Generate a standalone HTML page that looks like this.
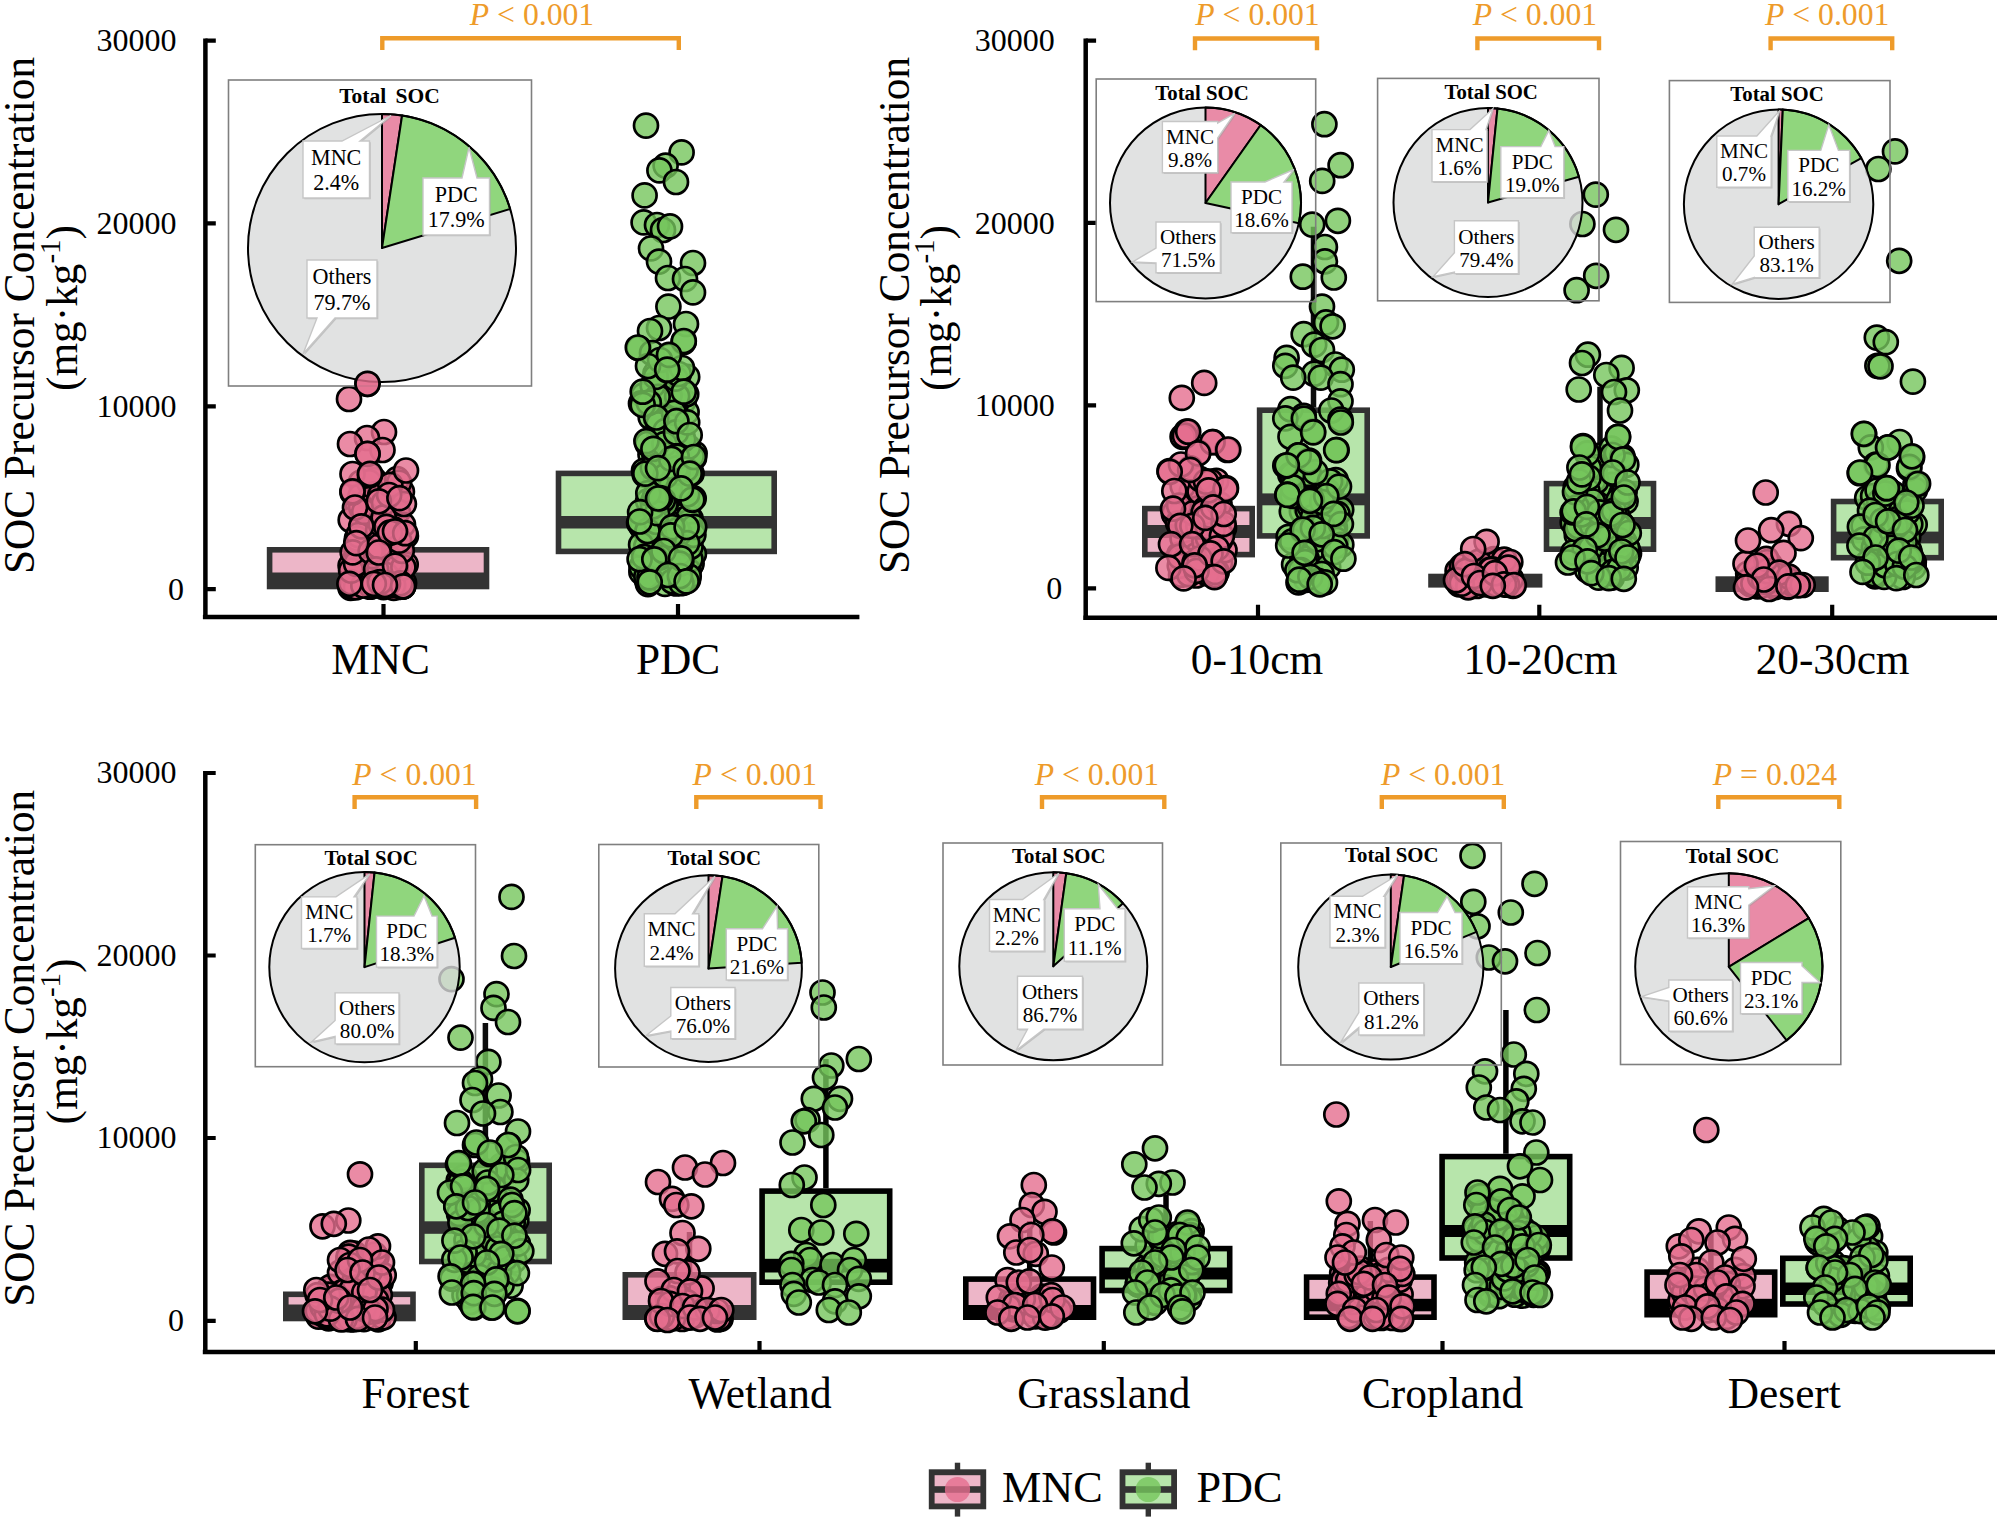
<!DOCTYPE html>
<html lang="en"><head><meta charset="utf-8"><title>SOC precursor concentration</title>
<style>html,body{margin:0;padding:0;background:#fff}svg{display:block}</style></head>
<body>
<svg width="2000" height="1520" viewBox="0 0 2000 1520" font-family="Liberation Serif, Times New Roman, serif" fill="#000">
<rect width="2000" height="1520" fill="#fff"/>
<path d="M205.4 38.6V619.2M202.9 616.9H859.4" stroke="#000" stroke-width="4.5" fill="none"/>
<path d="M205.4 40.7h10.4M205.4 223.4h10.4M205.4 406.3h10.4M205.4 589.2h10.4M383.5 616.9v-13M678 616.9v-13" stroke="#000" stroke-width="4.2" fill="none"/>
<text x="176.6" y="51.3" font-size="32" text-anchor="end">30000</text>
<text x="176.6" y="234" font-size="32" text-anchor="end">20000</text>
<text x="176.6" y="416.9" font-size="32" text-anchor="end">10000</text>
<text x="184.1" y="599.8" font-size="32" text-anchor="end">0</text>
<path d="M1085.7 38.6V620M1083.2 617.7H1997" stroke="#000" stroke-width="4.5" fill="none"/>
<path d="M1085.7 40.7h10.4M1085.7 222.9h10.4M1085.7 405.3h10.4M1085.7 588.4h10.4M1258 617.7v-13M1539.3 617.7v-13M1832.2 617.7v-13" stroke="#000" stroke-width="4.2" fill="none"/>
<text x="1054.7" y="51.3" font-size="32" text-anchor="end">30000</text>
<text x="1054.7" y="233.5" font-size="32" text-anchor="end">20000</text>
<text x="1054.7" y="415.9" font-size="32" text-anchor="end">10000</text>
<text x="1062.2" y="599" font-size="32" text-anchor="end">0</text>
<path d="M205.3 770.9V1354.2M202.8 1351.9H1995" stroke="#000" stroke-width="4.5" fill="none"/>
<path d="M205.3 773h10.4M205.3 955.5h10.4M205.3 1138h10.4M205.3 1320.8h10.4M415.8 1351.9v-10.8M759.5 1351.9v-10.8M1103.8 1351.9v-10.8M1442.5 1351.9v-10.8M1784.5 1351.9v-10.8" stroke="#000" stroke-width="4.2" fill="none"/>
<text x="176.6" y="783" font-size="32" text-anchor="end">30000</text>
<text x="176.6" y="965.5" font-size="32" text-anchor="end">20000</text>
<text x="176.6" y="1148" font-size="32" text-anchor="end">10000</text>
<text x="184.1" y="1330.8" font-size="32" text-anchor="end">0</text>
<text transform="translate(34.3 315.5) rotate(-90)" font-size="43.3" text-anchor="middle">SOC Precursor Concentration</text>
<text transform="translate(77.2 308) rotate(-90)" font-size="43.3" text-anchor="middle">(mg·kg<tspan font-size="29" dy="-17">-1</tspan><tspan dy="17">)</tspan></text>
<text transform="translate(908.5 315.5) rotate(-90)" font-size="43.3" text-anchor="middle">SOC Precursor Concentration</text>
<text transform="translate(951 308) rotate(-90)" font-size="43.3" text-anchor="middle">(mg·kg<tspan font-size="29" dy="-17">-1</tspan><tspan dy="17">)</tspan></text>
<text transform="translate(33.5 1048.3) rotate(-90)" font-size="43.3" text-anchor="middle">SOC Precursor Concentration</text>
<text transform="translate(76.8 1041.5) rotate(-90)" font-size="43.3" text-anchor="middle">(mg·kg<tspan font-size="29" dy="-17">-1</tspan><tspan dy="17">)</tspan></text>
<text x="380.5" y="673.5" font-size="43.3" text-anchor="middle">MNC</text>
<text x="678" y="673.5" font-size="43.3" text-anchor="middle">PDC</text>
<text x="1257" y="673.5" font-size="43.3" text-anchor="middle">0-10cm</text>
<text x="1540.5" y="673.5" font-size="43.3" text-anchor="middle">10-20cm</text>
<text x="1832.6" y="673.5" font-size="43.3" text-anchor="middle">20-30cm</text>
<text x="415.5" y="1407.5" font-size="43.3" text-anchor="middle">Forest</text>
<text x="760" y="1407.5" font-size="43.3" text-anchor="middle">Wetland</text>
<text x="1103.8" y="1407.5" font-size="43.3" text-anchor="middle">Grassland</text>
<text x="1442.5" y="1407.5" font-size="43.3" text-anchor="middle">Cropland</text>
<text x="1784.3" y="1407.5" font-size="43.3" text-anchor="middle">Desert</text>
<rect x="266.8" y="547" width="222.5" height="42.3" fill="#333"/>
<rect x="272.4" y="552.6" width="211.3" height="19.9" fill="#edb6c8"/>
<rect x="555.7" y="470.6" width="221.3" height="83.6" fill="#333"/>
<rect x="561.3" y="476.2" width="210.1" height="39.8" fill="#b7e5ab"/>
<rect x="561.3" y="528.5" width="210.1" height="20.1" fill="#b7e5ab"/>
<rect x="1142" y="505.8" width="113" height="51.6" fill="#333"/>
<rect x="1147.6" y="511.4" width="101.8" height="13.6" fill="#edb6c8"/>
<rect x="1147.6" y="538" width="101.8" height="13.8" fill="#edb6c8"/>
<path d="M1313.5 226.8V407.4" stroke="#0d0d0d" stroke-width="5.5"/>
<rect x="1256.8" y="407.4" width="113.2" height="131.3" fill="#333"/>
<rect x="1262.4" y="413" width="102" height="80.4" fill="#b7e5ab"/>
<rect x="1262.4" y="505.3" width="102" height="27.8" fill="#b7e5ab"/>
<rect x="1428.2" y="573.7" width="114.2" height="13.9" fill="#333"/>
<path d="M1600 386.8V480.8" stroke="#0d0d0d" stroke-width="5.5"/>
<rect x="1543.7" y="480.8" width="112.6" height="71.2" fill="#333"/>
<rect x="1549.3" y="486.4" width="101.4" height="30.6" fill="#b7e5ab"/>
<rect x="1549.3" y="529" width="101.4" height="17.4" fill="#b7e5ab"/>
<rect x="1715.5" y="576.3" width="113.2" height="15.7" fill="#333"/>
<rect x="1830.8" y="498.7" width="113.2" height="61.8" fill="#333"/>
<rect x="1836.4" y="504.3" width="102" height="27.3" fill="#b7e5ab"/>
<rect x="1836.4" y="543.4" width="102" height="11.5" fill="#b7e5ab"/>
<rect x="283" y="1291.5" width="132.8" height="29.8" fill="#333"/>
<rect x="288.6" y="1297.1" width="121.6" height="7.4" fill="#edb6c8"/>
<path d="M485.4 1022.9V1162.5" stroke="#0d0d0d" stroke-width="5.5"/>
<rect x="419" y="1162.5" width="133" height="101.8" fill="#333"/>
<rect x="424.6" y="1168.1" width="121.8" height="53.2" fill="#b7e5ab"/>
<rect x="424.6" y="1233.8" width="121.8" height="24.9" fill="#b7e5ab"/>
<path d="M689.5 1232V1272" stroke="#0d0d0d" stroke-width="5.5"/>
<rect x="622.5" y="1272" width="134" height="48" fill="#333"/>
<rect x="628.1" y="1277.6" width="122.8" height="27.4" fill="#edb6c8"/>
<path d="M825.9 1059V1188.3" stroke="#000" stroke-width="5.5"/>
<rect x="759.3" y="1188.3" width="133.2" height="96.7" fill="#000"/>
<rect x="764.9" y="1193.9" width="122" height="64.9" fill="#b7e5ab"/>
<rect x="764.9" y="1272.5" width="122" height="6.9" fill="#b7e5ab"/>
<path d="M1029.7 1221V1276.3" stroke="#000" stroke-width="5.5"/>
<rect x="963" y="1276.3" width="133.3" height="43.7" fill="#000"/>
<rect x="968.6" y="1281.9" width="122.1" height="23.1" fill="#edb6c8"/>
<path d="M1166 1195V1245.8" stroke="#000" stroke-width="5.5"/>
<rect x="1099.3" y="1245.8" width="133.2" height="47.5" fill="#000"/>
<rect x="1104.9" y="1251.4" width="122" height="16.1" fill="#b7e5ab"/>
<rect x="1104.9" y="1279.5" width="122" height="8.2" fill="#b7e5ab"/>
<path d="M1370.3 1221V1274.3" stroke="#000" stroke-width="5.5"/>
<rect x="1303.8" y="1274.3" width="133" height="45.7" fill="#000"/>
<rect x="1309.4" y="1279.9" width="121.8" height="18.9" fill="#edb6c8"/>
<rect x="1309.4" y="1311.3" width="121.8" height="3.1" fill="#edb6c8"/>
<path d="M1505.9 1010V1153.8" stroke="#000" stroke-width="5.5"/>
<rect x="1439.3" y="1153.8" width="133.2" height="107" fill="#000"/>
<rect x="1444.9" y="1159.4" width="122" height="65.6" fill="#b7e5ab"/>
<rect x="1444.9" y="1237" width="122" height="18.2" fill="#b7e5ab"/>
<path d="M1710.9 1232V1269.3" stroke="#000" stroke-width="5.5"/>
<rect x="1644.3" y="1269.3" width="133.2" height="48.2" fill="#000"/>
<rect x="1649.9" y="1274.9" width="122" height="23.9" fill="#edb6c8"/>
<rect x="1780" y="1255.5" width="133" height="51.3" fill="#000"/>
<rect x="1785.6" y="1261.1" width="121.8" height="21.4" fill="#b7e5ab"/>
<rect x="1785.6" y="1295" width="121.8" height="6.2" fill="#b7e5ab"/>
<g fill="#e56e8e" fill-opacity=".8" stroke="#000" stroke-width="2.7">
<circle cx="364.4" cy="539.1" r="12"/><circle cx="352.3" cy="586.1" r="12"/><circle cx="369.6" cy="528.4" r="12"/><circle cx="365.5" cy="566.5" r="12"/><circle cx="381.8" cy="583.8" r="12"/><circle cx="396.8" cy="580.5" r="12"/><circle cx="402.2" cy="582.7" r="12"/><circle cx="378.9" cy="576.9" r="12"/><circle cx="371.8" cy="564.2" r="12"/><circle cx="386" cy="582.8" r="12"/><circle cx="355" cy="583.2" r="12"/><circle cx="398" cy="563.9" r="12"/><circle cx="385.2" cy="560.5" r="12"/><circle cx="403.2" cy="586.2" r="12"/><circle cx="399.2" cy="567.2" r="12"/><circle cx="377.3" cy="582.3" r="12"/><circle cx="388.4" cy="568.5" r="12"/><circle cx="393" cy="509.9" r="12"/><circle cx="372.3" cy="584" r="12"/><circle cx="400.8" cy="548.8" r="12"/><circle cx="369.6" cy="531.7" r="12"/><circle cx="361.6" cy="585.1" r="12"/><circle cx="367" cy="561.9" r="12"/><circle cx="382.4" cy="544.9" r="12"/><circle cx="401.5" cy="582.3" r="12"/><circle cx="360.8" cy="482.5" r="12"/><circle cx="374.2" cy="481.2" r="12"/><circle cx="395.5" cy="509.7" r="12"/><circle cx="354.7" cy="586.3" r="12"/><circle cx="398.3" cy="490.2" r="12"/><circle cx="361.6" cy="583.9" r="12"/><circle cx="393.7" cy="584.1" r="12"/><circle cx="352.7" cy="562.1" r="12"/><circle cx="401.9" cy="491.8" r="12"/><circle cx="363.5" cy="554.8" r="12"/><circle cx="350.6" cy="587.9" r="12"/><circle cx="358" cy="505.7" r="12"/><circle cx="372.2" cy="512.5" r="12"/><circle cx="369.9" cy="586.7" r="12"/><circle cx="385.7" cy="575.4" r="12"/><circle cx="361.1" cy="527.3" r="12"/><circle cx="367.7" cy="513.1" r="12"/><circle cx="362.7" cy="573.9" r="12"/><circle cx="405.9" cy="535.9" r="12"/><circle cx="383.3" cy="578.2" r="12"/><circle cx="357.1" cy="538.9" r="12"/><circle cx="399.1" cy="577" r="12"/><circle cx="397.9" cy="511.6" r="12"/><circle cx="364.8" cy="524" r="12"/><circle cx="401.8" cy="582.1" r="12"/><circle cx="358" cy="583.2" r="12"/><circle cx="382.3" cy="562.3" r="12"/><circle cx="374.1" cy="479.8" r="12"/><circle cx="398" cy="587" r="12"/><circle cx="360.5" cy="496" r="12"/><circle cx="400.8" cy="563.4" r="12"/><circle cx="362.1" cy="570.7" r="12"/><circle cx="385.6" cy="562.1" r="12"/><circle cx="393.7" cy="542.9" r="12"/><circle cx="403.3" cy="585.7" r="12"/><circle cx="404.1" cy="583" r="12"/><circle cx="367.1" cy="582.7" r="12"/><circle cx="387.1" cy="537.3" r="12"/><circle cx="392.3" cy="583" r="12"/><circle cx="365.4" cy="573.2" r="12"/><circle cx="356.3" cy="574" r="12"/><circle cx="400.3" cy="583.8" r="12"/><circle cx="382.3" cy="546.4" r="12"/><circle cx="357.2" cy="554.1" r="12"/><circle cx="350.7" cy="520" r="12"/><circle cx="385.3" cy="542.8" r="12"/><circle cx="352.4" cy="587.1" r="12"/><circle cx="350.6" cy="565.6" r="12"/><circle cx="356.9" cy="542.4" r="12"/><circle cx="391.5" cy="570.7" r="12"/><circle cx="364.3" cy="534.8" r="12"/><circle cx="405.7" cy="564.4" r="12"/><circle cx="355.9" cy="587.3" r="12"/><circle cx="383.3" cy="563.3" r="12"/><circle cx="371.6" cy="586.4" r="12"/><circle cx="369" cy="482.1" r="12"/><circle cx="392.1" cy="583.7" r="12"/><circle cx="395.6" cy="568.5" r="12"/><circle cx="360.9" cy="542.6" r="12"/><circle cx="383.5" cy="587.1" r="12"/><circle cx="397.1" cy="479.1" r="12"/><circle cx="391" cy="531.5" r="12"/><circle cx="361.9" cy="508.7" r="12"/><circle cx="374.7" cy="494.1" r="12"/><circle cx="393.7" cy="587.8" r="12"/><circle cx="381.2" cy="585" r="12"/><circle cx="350.8" cy="582.2" r="12"/><circle cx="402.1" cy="586.7" r="12"/><circle cx="363.3" cy="585.5" r="12"/><circle cx="377.2" cy="539.6" r="12"/><circle cx="403" cy="524.8" r="12"/><circle cx="391.9" cy="560.1" r="12"/><circle cx="393.1" cy="584.7" r="12"/><circle cx="372.5" cy="500.3" r="12"/><circle cx="372.8" cy="556.2" r="12"/><circle cx="351.1" cy="570.6" r="12"/><circle cx="399.1" cy="482.6" r="12"/><circle cx="357" cy="538.5" r="12"/><circle cx="386.1" cy="575" r="12"/><circle cx="370" cy="498.8" r="12"/><circle cx="390.9" cy="536.5" r="12"/><circle cx="403.4" cy="567.3" r="12"/><circle cx="401.8" cy="550.8" r="12"/><circle cx="400.2" cy="583.3" r="12"/><circle cx="356.1" cy="563.7" r="12"/><circle cx="380.1" cy="495.6" r="12"/><circle cx="361" cy="506.8" r="12"/><circle cx="358.4" cy="535" r="12"/><circle cx="352.7" cy="552.4" r="12"/><circle cx="364.2" cy="511.9" r="12"/><circle cx="383.9" cy="503" r="12"/><circle cx="393.4" cy="529" r="12"/><circle cx="378.1" cy="530.8" r="12"/><circle cx="399.1" cy="540.6" r="12"/><circle cx="370.7" cy="551.3" r="12"/><circle cx="378.9" cy="546.5" r="12"/><circle cx="380.8" cy="524.1" r="12"/><circle cx="383.7" cy="517.4" r="12"/><circle cx="386.4" cy="526.9" r="12"/><circle cx="389.9" cy="532.7" r="12"/><circle cx="403.9" cy="504" r="12"/><circle cx="390.3" cy="484.8" r="12"/><circle cx="388" cy="583.6" r="12"/><circle cx="405.2" cy="533.2" r="12"/><circle cx="389.1" cy="495" r="12"/><circle cx="376.1" cy="569.4" r="12"/><circle cx="379.9" cy="582.2" r="12"/><circle cx="367.5" cy="383.8" r="12"/><circle cx="349" cy="399" r="12"/><circle cx="384" cy="432" r="12"/><circle cx="367" cy="438" r="12"/><circle cx="350" cy="444" r="12"/><circle cx="382.5" cy="450" r="12"/><circle cx="367.5" cy="454" r="12"/><circle cx="406" cy="470.5" r="12"/><circle cx="352.5" cy="474" r="12"/><circle cx="370" cy="475" r="12"/><circle cx="352.5" cy="492.5" r="12"/><circle cx="367.5" cy="453.8" r="12"/><circle cx="370" cy="473.8" r="12"/><circle cx="352.5" cy="491.3" r="12"/><circle cx="378.8" cy="501.3" r="12"/><circle cx="399.4" cy="498.1" r="12"/><circle cx="355" cy="507.5" r="12"/><circle cx="395" cy="531.3" r="12"/><circle cx="361.3" cy="526.3" r="12"/><circle cx="356.3" cy="543.1" r="12"/><circle cx="378.8" cy="552.5" r="12"/><circle cx="395" cy="565.6" r="12"/><circle cx="349.4" cy="583.8" r="12"/><circle cx="403.1" cy="586.3" r="12"/><circle cx="373.8" cy="583.8" r="12"/><circle cx="385" cy="585" r="12"/>
</g>
<g fill="#76c65c" fill-opacity=".8" stroke="#000" stroke-width="2.7">
<circle cx="657.6" cy="571.5" r="12"/><circle cx="665.9" cy="380.4" r="12"/><circle cx="655.4" cy="373.6" r="12"/><circle cx="690.3" cy="565.9" r="12"/><circle cx="667.9" cy="530.4" r="12"/><circle cx="651.7" cy="548.1" r="12"/><circle cx="682.5" cy="530.5" r="12"/><circle cx="663.6" cy="529" r="12"/><circle cx="690.6" cy="518.8" r="12"/><circle cx="664.1" cy="395.4" r="12"/><circle cx="650.5" cy="454.6" r="12"/><circle cx="641.3" cy="526.1" r="12"/><circle cx="665.7" cy="480.5" r="12"/><circle cx="671.9" cy="560.1" r="12"/><circle cx="668.7" cy="535.9" r="12"/><circle cx="658.5" cy="505.9" r="12"/><circle cx="662.4" cy="415.9" r="12"/><circle cx="660.5" cy="458.4" r="12"/><circle cx="654.6" cy="468.6" r="12"/><circle cx="686.8" cy="528.3" r="12"/><circle cx="642.1" cy="566.7" r="12"/><circle cx="687.2" cy="502.3" r="12"/><circle cx="674.1" cy="382.7" r="12"/><circle cx="644" cy="470.8" r="12"/><circle cx="684.2" cy="465.2" r="12"/><circle cx="654.8" cy="456.7" r="12"/><circle cx="691.6" cy="563.6" r="12"/><circle cx="646.7" cy="579.4" r="12"/><circle cx="648.1" cy="501.1" r="12"/><circle cx="689.4" cy="556.6" r="12"/><circle cx="672.7" cy="574.6" r="12"/><circle cx="659.8" cy="556.4" r="12"/><circle cx="661.3" cy="535.6" r="12"/><circle cx="694" cy="457.9" r="12"/><circle cx="691.1" cy="538.3" r="12"/><circle cx="691.3" cy="552.6" r="12"/><circle cx="661.5" cy="443.5" r="12"/><circle cx="668.4" cy="532.3" r="12"/><circle cx="677.3" cy="560.1" r="12"/><circle cx="682.1" cy="433.8" r="12"/><circle cx="683.7" cy="401.1" r="12"/><circle cx="677.3" cy="496.6" r="12"/><circle cx="655.9" cy="481.6" r="12"/><circle cx="659.6" cy="435.1" r="12"/><circle cx="654.3" cy="453.8" r="12"/><circle cx="671.8" cy="482.1" r="12"/><circle cx="689" cy="521.8" r="12"/><circle cx="681.3" cy="570.6" r="12"/><circle cx="642.3" cy="527.4" r="12"/><circle cx="639.1" cy="523.1" r="12"/><circle cx="694.6" cy="453.5" r="12"/><circle cx="656" cy="418.7" r="12"/><circle cx="676.2" cy="583.5" r="12"/><circle cx="687.2" cy="376.9" r="12"/><circle cx="677.9" cy="470.2" r="12"/><circle cx="670.4" cy="496.4" r="12"/><circle cx="688.6" cy="517" r="12"/><circle cx="675.1" cy="556.4" r="12"/><circle cx="688" cy="580.1" r="12"/><circle cx="693.9" cy="553.9" r="12"/><circle cx="641.4" cy="572.1" r="12"/><circle cx="683" cy="582.8" r="12"/><circle cx="664.3" cy="454.1" r="12"/><circle cx="664.2" cy="501.8" r="12"/><circle cx="688.5" cy="570.9" r="12"/><circle cx="690.4" cy="559.3" r="12"/><circle cx="693.7" cy="498.4" r="12"/><circle cx="687.2" cy="494.3" r="12"/><circle cx="677" cy="469.1" r="12"/><circle cx="650.7" cy="417.2" r="12"/><circle cx="678.9" cy="454.3" r="12"/><circle cx="675.8" cy="417.3" r="12"/><circle cx="678.6" cy="582.4" r="12"/><circle cx="688.7" cy="576.4" r="12"/><circle cx="661.7" cy="512.6" r="12"/><circle cx="686.6" cy="412.1" r="12"/><circle cx="681.3" cy="561.7" r="12"/><circle cx="676.2" cy="403.3" r="12"/><circle cx="691.6" cy="473.4" r="12"/><circle cx="653.3" cy="501.4" r="12"/><circle cx="690.5" cy="546.8" r="12"/><circle cx="667.9" cy="561.7" r="12"/><circle cx="686.2" cy="394.2" r="12"/><circle cx="646.2" cy="546.5" r="12"/><circle cx="655.6" cy="574.2" r="12"/><circle cx="669.8" cy="488.7" r="12"/><circle cx="677.7" cy="472.3" r="12"/><circle cx="680.2" cy="438.6" r="12"/><circle cx="693.4" cy="534.8" r="12"/><circle cx="647.5" cy="443.9" r="12"/><circle cx="648" cy="584.1" r="12"/><circle cx="677.1" cy="433" r="12"/><circle cx="641.5" cy="567" r="12"/><circle cx="668.7" cy="522.6" r="12"/><circle cx="647.9" cy="530.6" r="12"/><circle cx="691.7" cy="456.3" r="12"/><circle cx="644.7" cy="474.5" r="12"/><circle cx="665.5" cy="504.1" r="12"/><circle cx="671.3" cy="569.7" r="12"/><circle cx="658.4" cy="424.4" r="12"/><circle cx="656.1" cy="521.8" r="12"/><circle cx="665.6" cy="430.9" r="12"/><circle cx="679.5" cy="532.9" r="12"/><circle cx="688.1" cy="447" r="12"/><circle cx="653" cy="506.3" r="12"/><circle cx="641.1" cy="544.7" r="12"/><circle cx="669.5" cy="395.5" r="12"/><circle cx="675.8" cy="468.6" r="12"/><circle cx="643.5" cy="395.3" r="12"/><circle cx="683.2" cy="439.5" r="12"/><circle cx="677.1" cy="396.2" r="12"/><circle cx="675.5" cy="378.6" r="12"/><circle cx="678.2" cy="488.4" r="12"/><circle cx="647.5" cy="531" r="12"/><circle cx="652.7" cy="385.4" r="12"/><circle cx="663" cy="500" r="12"/><circle cx="669" cy="576" r="12"/><circle cx="665" cy="583.9" r="12"/><circle cx="655" cy="496.7" r="12"/><circle cx="674" cy="412.9" r="12"/><circle cx="665.3" cy="569.4" r="12"/><circle cx="661.6" cy="574.7" r="12"/><circle cx="652.8" cy="467.5" r="12"/><circle cx="641" cy="403.4" r="12"/><circle cx="678.8" cy="374" r="12"/><circle cx="678.9" cy="553.6" r="12"/><circle cx="665.4" cy="475.9" r="12"/><circle cx="670.3" cy="541.4" r="12"/><circle cx="677.5" cy="530.2" r="12"/><circle cx="646.4" cy="576.6" r="12"/><circle cx="694.2" cy="526.9" r="12"/><circle cx="649.5" cy="577.4" r="12"/><circle cx="657.1" cy="513.1" r="12"/><circle cx="648.3" cy="493.2" r="12"/><circle cx="644.1" cy="556.9" r="12"/><circle cx="659.7" cy="557.5" r="12"/><circle cx="664.4" cy="444.1" r="12"/><circle cx="657.7" cy="396.8" r="12"/><circle cx="672.2" cy="527.1" r="12"/><circle cx="676.8" cy="456.7" r="12"/><circle cx="676" cy="432.4" r="12"/><circle cx="648.8" cy="402.7" r="12"/><circle cx="640.1" cy="512.1" r="12"/><circle cx="642.7" cy="404.9" r="12"/><circle cx="655" cy="558.3" r="12"/><circle cx="687.1" cy="543.1" r="12"/><circle cx="660.2" cy="498.1" r="12"/><circle cx="672.5" cy="581.3" r="12"/><circle cx="681.4" cy="583.1" r="12"/><circle cx="692.3" cy="499.7" r="12"/><circle cx="639.6" cy="559.2" r="12"/><circle cx="646.4" cy="441.1" r="12"/><circle cx="679.7" cy="563.7" r="12"/><circle cx="645.3" cy="473.6" r="12"/><circle cx="671.2" cy="458.9" r="12"/><circle cx="685.7" cy="469.5" r="12"/><circle cx="655.8" cy="376.9" r="12"/><circle cx="687.2" cy="422.4" r="12"/><circle cx="679.9" cy="576" r="12"/><circle cx="646" cy="125.6" r="12"/><circle cx="681.6" cy="152.4" r="12"/><circle cx="665.6" cy="165.6" r="12"/><circle cx="659.4" cy="170.4" r="12"/><circle cx="676" cy="182" r="12"/><circle cx="644.6" cy="195.4" r="12"/><circle cx="643.6" cy="222.4" r="12"/><circle cx="657" cy="225" r="12"/><circle cx="663" cy="230" r="12"/><circle cx="670" cy="226.4" r="12"/><circle cx="651" cy="248.4" r="12"/><circle cx="659" cy="261.6" r="12"/><circle cx="693" cy="263" r="12"/><circle cx="668" cy="278" r="12"/><circle cx="685" cy="279" r="12"/><circle cx="693" cy="292.4" r="12"/><circle cx="668.4" cy="306.6" r="12"/><circle cx="686" cy="324" r="12"/><circle cx="659" cy="328" r="12"/><circle cx="650" cy="331" r="12"/><circle cx="683.6" cy="342" r="12"/><circle cx="638.6" cy="348" r="12"/><circle cx="652" cy="353" r="12"/><circle cx="669" cy="356" r="12"/><circle cx="660" cy="360" r="12"/><circle cx="682" cy="368" r="12"/><circle cx="667" cy="370" r="12"/><circle cx="648" cy="366" r="12"/><circle cx="683.8" cy="341" r="12"/><circle cx="637.8" cy="347.5" r="12"/><circle cx="669" cy="354.9" r="12"/><circle cx="667.2" cy="369.6" r="12"/><circle cx="642.7" cy="391.7" r="12"/><circle cx="683.8" cy="391.7" r="12"/><circle cx="656.2" cy="417.5" r="12"/><circle cx="676.4" cy="421.2" r="12"/><circle cx="689.7" cy="435" r="12"/><circle cx="653.4" cy="448.8" r="12"/><circle cx="693.9" cy="457" r="12"/><circle cx="658" cy="468.1" r="12"/><circle cx="689.7" cy="473.6" r="12"/><circle cx="681" cy="488.4" r="12"/><circle cx="658" cy="498.5" r="12"/><circle cx="639.6" cy="521.5" r="12"/><circle cx="670.9" cy="535.3" r="12"/><circle cx="686.6" cy="527" r="12"/><circle cx="663.5" cy="551" r="12"/><circle cx="654.3" cy="559.3" r="12"/><circle cx="681" cy="558.4" r="12"/><circle cx="668.1" cy="575" r="12"/><circle cx="649.7" cy="582.3" r="12"/><circle cx="686.6" cy="581.4" r="12"/>
</g>
<g fill="#e56e8e" fill-opacity=".8" stroke="#000" stroke-width="2.7">
<circle cx="1202.4" cy="491.6" r="12"/><circle cx="1208.4" cy="552.1" r="12"/><circle cx="1191.8" cy="491.4" r="12"/><circle cx="1220" cy="563.2" r="12"/><circle cx="1200.1" cy="537.4" r="12"/><circle cx="1193.3" cy="543.7" r="12"/><circle cx="1205.5" cy="526.8" r="12"/><circle cx="1179.3" cy="554.5" r="12"/><circle cx="1196.8" cy="570.2" r="12"/><circle cx="1196.4" cy="512.1" r="12"/><circle cx="1224" cy="528.2" r="12"/><circle cx="1194.8" cy="533.5" r="12"/><circle cx="1205.1" cy="481.3" r="12"/><circle cx="1191.9" cy="547.4" r="12"/><circle cx="1197.2" cy="508.6" r="12"/><circle cx="1178" cy="507.1" r="12"/><circle cx="1206" cy="549.5" r="12"/><circle cx="1181.9" cy="556.4" r="12"/><circle cx="1224.5" cy="550.2" r="12"/><circle cx="1174.6" cy="514.8" r="12"/><circle cx="1220.3" cy="540.1" r="12"/><circle cx="1196.2" cy="575.5" r="12"/><circle cx="1216.3" cy="480.8" r="12"/><circle cx="1209.2" cy="520" r="12"/><circle cx="1180.2" cy="514.6" r="12"/><circle cx="1182.6" cy="538.5" r="12"/><circle cx="1191.5" cy="553" r="12"/><circle cx="1194.3" cy="537.9" r="12"/><circle cx="1212.5" cy="517.8" r="12"/><circle cx="1196.3" cy="555.2" r="12"/><circle cx="1212.4" cy="523.4" r="12"/><circle cx="1173.9" cy="513.8" r="12"/><circle cx="1181" cy="574.7" r="12"/><circle cx="1204.4" cy="541.4" r="12"/><circle cx="1207.9" cy="537.8" r="12"/><circle cx="1182.7" cy="486.3" r="12"/><circle cx="1178.1" cy="523.3" r="12"/><circle cx="1216.7" cy="572" r="12"/><circle cx="1185" cy="560.1" r="12"/><circle cx="1187.8" cy="525.1" r="12"/><circle cx="1200.2" cy="513.3" r="12"/><circle cx="1212.3" cy="497.3" r="12"/><circle cx="1179.8" cy="565.8" r="12"/><circle cx="1179.1" cy="505.6" r="12"/><circle cx="1218" cy="527.7" r="12"/><circle cx="1198.3" cy="526.5" r="12"/><circle cx="1193.4" cy="513.2" r="12"/><circle cx="1207.7" cy="526.9" r="12"/><circle cx="1204.7" cy="563.7" r="12"/><circle cx="1206.9" cy="573.2" r="12"/><circle cx="1179.6" cy="556.6" r="12"/><circle cx="1212.5" cy="530.6" r="12"/><circle cx="1215.3" cy="574.9" r="12"/><circle cx="1221.9" cy="536" r="12"/><circle cx="1189" cy="574.2" r="12"/><circle cx="1215.1" cy="571.9" r="12"/><circle cx="1194.6" cy="562.4" r="12"/><circle cx="1216.8" cy="548.4" r="12"/><circle cx="1199.6" cy="491.6" r="12"/><circle cx="1200.2" cy="479" r="12"/><circle cx="1205.5" cy="508.7" r="12"/><circle cx="1199.6" cy="558.4" r="12"/><circle cx="1196.6" cy="570.8" r="12"/><circle cx="1203.6" cy="512.4" r="12"/><circle cx="1209.1" cy="515.3" r="12"/><circle cx="1219.5" cy="504.3" r="12"/><circle cx="1210.7" cy="481.7" r="12"/><circle cx="1192.4" cy="525.9" r="12"/><circle cx="1223.6" cy="523.9" r="12"/><circle cx="1204.2" cy="382.9" r="12"/><circle cx="1181.8" cy="397.9" r="12"/><circle cx="1186.6" cy="431.6" r="12"/><circle cx="1182.6" cy="436.8" r="12"/><circle cx="1212.9" cy="442" r="12"/><circle cx="1227.4" cy="450" r="12"/><circle cx="1198.4" cy="452.6" r="12"/><circle cx="1169.5" cy="471" r="12"/><circle cx="1190.5" cy="468.4" r="12"/><circle cx="1181" cy="464.5" r="12"/><circle cx="1206" cy="481.6" r="12"/><circle cx="1226" cy="488" r="12"/><circle cx="1184.9" cy="435.7" r="12"/><circle cx="1188.2" cy="431.7" r="12"/><circle cx="1212.5" cy="442.2" r="12"/><circle cx="1228.3" cy="449.5" r="12"/><circle cx="1198" cy="453.4" r="12"/><circle cx="1190.1" cy="469.9" r="12"/><circle cx="1169.7" cy="471.8" r="12"/><circle cx="1225.7" cy="489" r="12"/><circle cx="1174.3" cy="491" r="12"/><circle cx="1208.6" cy="490.3" r="12"/><circle cx="1213.2" cy="507.4" r="12"/><circle cx="1173" cy="508.7" r="12"/><circle cx="1223.7" cy="514" r="12"/><circle cx="1205.3" cy="517.9" r="12"/><circle cx="1180.3" cy="525.8" r="12"/><circle cx="1171" cy="544.2" r="12"/><circle cx="1192.1" cy="544.2" r="12"/><circle cx="1210.5" cy="553.4" r="12"/><circle cx="1168.4" cy="567.9" r="12"/><circle cx="1194.7" cy="565.3" r="12"/><circle cx="1223.7" cy="561.3" r="12"/><circle cx="1183.6" cy="578.4" r="12"/><circle cx="1214.5" cy="577.1" r="12"/>
</g>
<g fill="#76c65c" fill-opacity=".8" stroke="#000" stroke-width="2.7">
<circle cx="1325.4" cy="536.6" r="12"/><circle cx="1294.1" cy="564.5" r="12"/><circle cx="1317.2" cy="514.9" r="12"/><circle cx="1298.5" cy="470.6" r="12"/><circle cx="1325.8" cy="523.8" r="12"/><circle cx="1321.1" cy="525.4" r="12"/><circle cx="1332.3" cy="486.3" r="12"/><circle cx="1331.9" cy="517.7" r="12"/><circle cx="1309.7" cy="565.8" r="12"/><circle cx="1301.9" cy="511.3" r="12"/><circle cx="1334.9" cy="527.7" r="12"/><circle cx="1328.5" cy="550.4" r="12"/><circle cx="1329.3" cy="525.3" r="12"/><circle cx="1335.8" cy="480.2" r="12"/><circle cx="1302.6" cy="558.3" r="12"/><circle cx="1327.2" cy="491" r="12"/><circle cx="1306.3" cy="579.8" r="12"/><circle cx="1306.7" cy="476" r="12"/><circle cx="1303" cy="557.8" r="12"/><circle cx="1290.4" cy="474.9" r="12"/><circle cx="1307" cy="568.8" r="12"/><circle cx="1333.6" cy="530.8" r="12"/><circle cx="1306.5" cy="508.2" r="12"/><circle cx="1313.1" cy="513.3" r="12"/><circle cx="1306.6" cy="558.8" r="12"/><circle cx="1326.5" cy="491.5" r="12"/><circle cx="1288.6" cy="536.8" r="12"/><circle cx="1308.9" cy="473.9" r="12"/><circle cx="1305" cy="562.1" r="12"/><circle cx="1300.9" cy="570.1" r="12"/><circle cx="1291.8" cy="511.4" r="12"/><circle cx="1302.8" cy="531.9" r="12"/><circle cx="1328.1" cy="520" r="12"/><circle cx="1313.2" cy="504.1" r="12"/><circle cx="1330" cy="481.3" r="12"/><circle cx="1336.2" cy="539.9" r="12"/><circle cx="1319.7" cy="524.7" r="12"/><circle cx="1307.8" cy="510.3" r="12"/><circle cx="1292.2" cy="541.4" r="12"/><circle cx="1341.2" cy="509.7" r="12"/><circle cx="1292.6" cy="495.9" r="12"/><circle cx="1341.3" cy="544.8" r="12"/><circle cx="1337.5" cy="513.9" r="12"/><circle cx="1298.5" cy="582.4" r="12"/><circle cx="1328.2" cy="566.9" r="12"/><circle cx="1321.6" cy="574" r="12"/><circle cx="1335.2" cy="546.1" r="12"/><circle cx="1309.6" cy="506.5" r="12"/><circle cx="1310.9" cy="502.9" r="12"/><circle cx="1315.3" cy="472.1" r="12"/><circle cx="1292" cy="475.2" r="12"/><circle cx="1292.8" cy="487.3" r="12"/><circle cx="1312.9" cy="517.1" r="12"/><circle cx="1287.4" cy="494.5" r="12"/><circle cx="1322.2" cy="502" r="12"/><circle cx="1316.8" cy="539.3" r="12"/><circle cx="1318.2" cy="580.8" r="12"/><circle cx="1297.4" cy="570.2" r="12"/><circle cx="1322.4" cy="526" r="12"/><circle cx="1304.8" cy="530.4" r="12"/><circle cx="1311.6" cy="499.3" r="12"/><circle cx="1340.9" cy="524.1" r="12"/><circle cx="1312.9" cy="527.8" r="12"/><circle cx="1339" cy="486.6" r="12"/><circle cx="1317.8" cy="582.8" r="12"/><circle cx="1310.4" cy="576.8" r="12"/><circle cx="1324.4" cy="124.2" r="12"/><circle cx="1340.6" cy="165.2" r="12"/><circle cx="1322.2" cy="180.9" r="12"/><circle cx="1337.9" cy="220.8" r="12"/><circle cx="1312.2" cy="224.6" r="12"/><circle cx="1324.9" cy="247" r="12"/><circle cx="1324.9" cy="261.3" r="12"/><circle cx="1302.8" cy="276.7" r="12"/><circle cx="1333.8" cy="277.5" r="12"/><circle cx="1322" cy="306.6" r="12"/><circle cx="1326" cy="322.4" r="12"/><circle cx="1332.6" cy="326.3" r="12"/><circle cx="1303.7" cy="334.2" r="12"/><circle cx="1314.2" cy="344.7" r="12"/><circle cx="1322" cy="350" r="12"/><circle cx="1286.6" cy="357.9" r="12"/><circle cx="1285.3" cy="365.8" r="12"/><circle cx="1335.3" cy="364.5" r="12"/><circle cx="1341.8" cy="369.7" r="12"/><circle cx="1314.2" cy="373.7" r="12"/><circle cx="1320.8" cy="377.6" r="12"/><circle cx="1293.2" cy="377.6" r="12"/><circle cx="1340.5" cy="384.2" r="12"/><circle cx="1340.5" cy="401.3" r="12"/><circle cx="1290.5" cy="409.2" r="12"/><circle cx="1303.7" cy="415.8" r="12"/><circle cx="1285.3" cy="418.4" r="12"/><circle cx="1331.3" cy="410.5" r="12"/><circle cx="1340.5" cy="419.7" r="12"/><circle cx="1312.9" cy="431.6" r="12"/><circle cx="1290.5" cy="436.8" r="12"/><circle cx="1336.6" cy="450" r="12"/><circle cx="1298.4" cy="455.3" r="12"/><circle cx="1309" cy="460.5" r="12"/><circle cx="1285.3" cy="465.8" r="12"/><circle cx="1303.9" cy="418.6" r="12"/><circle cx="1340.8" cy="422.5" r="12"/><circle cx="1313.2" cy="432.4" r="12"/><circle cx="1336.2" cy="450.1" r="12"/><circle cx="1298.7" cy="455.4" r="12"/><circle cx="1308.6" cy="462" r="12"/><circle cx="1286.8" cy="465.3" r="12"/><circle cx="1287.5" cy="494.9" r="12"/><circle cx="1326.3" cy="496.2" r="12"/><circle cx="1309.9" cy="500.8" r="12"/><circle cx="1333.6" cy="513.9" r="12"/><circle cx="1302.6" cy="529.7" r="12"/><circle cx="1321.7" cy="534.3" r="12"/><circle cx="1288.2" cy="545.5" r="12"/><circle cx="1304.6" cy="552.8" r="12"/><circle cx="1334.2" cy="552.1" r="12"/><circle cx="1343.4" cy="558.7" r="12"/><circle cx="1299.3" cy="579.7" r="12"/><circle cx="1325" cy="582.4" r="12"/><circle cx="1319.7" cy="584.3" r="12"/>
</g>
<g fill="#e56e8e" fill-opacity=".8" stroke="#000" stroke-width="2.7">
<circle cx="1492.7" cy="578.7" r="12"/><circle cx="1479.3" cy="577.6" r="12"/><circle cx="1502.9" cy="579.5" r="12"/><circle cx="1460.1" cy="571.9" r="12"/><circle cx="1493.5" cy="561.3" r="12"/><circle cx="1502.4" cy="581" r="12"/><circle cx="1459.3" cy="584.4" r="12"/><circle cx="1484.7" cy="571.8" r="12"/><circle cx="1482.6" cy="577.4" r="12"/><circle cx="1496.3" cy="568.2" r="12"/><circle cx="1487.2" cy="578.7" r="12"/><circle cx="1490.8" cy="566.6" r="12"/><circle cx="1471.2" cy="572.5" r="12"/><circle cx="1489.3" cy="571.5" r="12"/><circle cx="1457.6" cy="571" r="12"/><circle cx="1510.5" cy="578.7" r="12"/><circle cx="1504.6" cy="580.4" r="12"/><circle cx="1503.5" cy="583.6" r="12"/><circle cx="1474.5" cy="582" r="12"/><circle cx="1474.3" cy="579.9" r="12"/><circle cx="1478.6" cy="568.8" r="12"/><circle cx="1458.6" cy="579.3" r="12"/><circle cx="1512.9" cy="585.8" r="12"/><circle cx="1493" cy="564.2" r="12"/><circle cx="1462" cy="566.1" r="12"/><circle cx="1461.8" cy="580.2" r="12"/><circle cx="1480.5" cy="572.9" r="12"/><circle cx="1470.4" cy="578.4" r="12"/><circle cx="1469" cy="569.7" r="12"/><circle cx="1493.7" cy="559.2" r="12"/><circle cx="1486.2" cy="584.4" r="12"/><circle cx="1466.2" cy="572.1" r="12"/><circle cx="1511.1" cy="579" r="12"/><circle cx="1507" cy="584.7" r="12"/><circle cx="1467.1" cy="574.5" r="12"/><circle cx="1476.6" cy="586" r="12"/><circle cx="1473" cy="565.3" r="12"/><circle cx="1470.7" cy="583.9" r="12"/><circle cx="1469.9" cy="577.9" r="12"/><circle cx="1498.4" cy="578.2" r="12"/><circle cx="1471.6" cy="578.5" r="12"/><circle cx="1506.1" cy="567.6" r="12"/><circle cx="1492.5" cy="582" r="12"/><circle cx="1483.4" cy="576" r="12"/><circle cx="1468.2" cy="585.9" r="12"/><circle cx="1496.6" cy="561.3" r="12"/><circle cx="1486.7" cy="571.5" r="12"/><circle cx="1507.4" cy="569.4" r="12"/><circle cx="1478.6" cy="561.9" r="12"/><circle cx="1496" cy="584.4" r="12"/><circle cx="1504.2" cy="559.7" r="12"/><circle cx="1468.2" cy="587.3" r="12"/><circle cx="1492.4" cy="569.4" r="12"/><circle cx="1479.3" cy="579" r="12"/><circle cx="1461.7" cy="583.6" r="12"/><circle cx="1489.9" cy="569.8" r="12"/><circle cx="1466.1" cy="570.8" r="12"/><circle cx="1491" cy="570" r="12"/><circle cx="1510.3" cy="562" r="12"/><circle cx="1456" cy="580.2" r="12"/><circle cx="1486.6" cy="541.8" r="12"/><circle cx="1473.2" cy="549" r="12"/><circle cx="1508.2" cy="567.6" r="12"/><circle cx="1464.8" cy="564.1" r="12"/><circle cx="1473.9" cy="576" r="12"/><circle cx="1480.2" cy="583" r="12"/><circle cx="1494.9" cy="573.2" r="12"/><circle cx="1504" cy="584.4" r="12"/><circle cx="1513.8" cy="585.1" r="12"/><circle cx="1492.8" cy="585.8" r="12"/>
</g>
<g fill="#76c65c" fill-opacity=".8" stroke="#000" stroke-width="2.7">
<circle cx="1629" cy="553.6" r="12"/><circle cx="1576.8" cy="535" r="12"/><circle cx="1624.3" cy="541.7" r="12"/><circle cx="1573.2" cy="552.5" r="12"/><circle cx="1608.9" cy="487.1" r="12"/><circle cx="1625.7" cy="567.6" r="12"/><circle cx="1615.3" cy="515.4" r="12"/><circle cx="1594.2" cy="476.9" r="12"/><circle cx="1602.4" cy="505.3" r="12"/><circle cx="1597.9" cy="455.8" r="12"/><circle cx="1607.4" cy="489" r="12"/><circle cx="1611.7" cy="484.9" r="12"/><circle cx="1602.3" cy="561.7" r="12"/><circle cx="1586.6" cy="557.9" r="12"/><circle cx="1573.5" cy="512.8" r="12"/><circle cx="1592.1" cy="527.1" r="12"/><circle cx="1596.9" cy="544.8" r="12"/><circle cx="1611.6" cy="448.7" r="12"/><circle cx="1610.7" cy="549.1" r="12"/><circle cx="1611.6" cy="553.8" r="12"/><circle cx="1615.5" cy="544.1" r="12"/><circle cx="1620.5" cy="522.5" r="12"/><circle cx="1575.9" cy="521.1" r="12"/><circle cx="1622.6" cy="555.3" r="12"/><circle cx="1602.9" cy="561.8" r="12"/><circle cx="1588.8" cy="543.8" r="12"/><circle cx="1572.7" cy="522.4" r="12"/><circle cx="1625.6" cy="501.5" r="12"/><circle cx="1589.6" cy="531.4" r="12"/><circle cx="1584.7" cy="472.7" r="12"/><circle cx="1603.9" cy="531.7" r="12"/><circle cx="1606.5" cy="558.9" r="12"/><circle cx="1604.2" cy="572.1" r="12"/><circle cx="1587.3" cy="496.2" r="12"/><circle cx="1578.4" cy="526.2" r="12"/><circle cx="1611.9" cy="577.6" r="12"/><circle cx="1593.2" cy="480.8" r="12"/><circle cx="1627.6" cy="549.2" r="12"/><circle cx="1576" cy="529.1" r="12"/><circle cx="1587.3" cy="453.8" r="12"/><circle cx="1586.3" cy="517.3" r="12"/><circle cx="1616.6" cy="513.3" r="12"/><circle cx="1619" cy="526.4" r="12"/><circle cx="1613.7" cy="557.8" r="12"/><circle cx="1618.4" cy="556.4" r="12"/><circle cx="1627.1" cy="548.1" r="12"/><circle cx="1582.1" cy="510.5" r="12"/><circle cx="1592" cy="525.3" r="12"/><circle cx="1596.3" cy="481.2" r="12"/><circle cx="1607.8" cy="570.8" r="12"/><circle cx="1602.2" cy="545.4" r="12"/><circle cx="1595.3" cy="467" r="12"/><circle cx="1575.8" cy="487.2" r="12"/><circle cx="1616.1" cy="453.7" r="12"/><circle cx="1616.9" cy="452.8" r="12"/><circle cx="1587.4" cy="490.9" r="12"/><circle cx="1592.8" cy="501.5" r="12"/><circle cx="1605.6" cy="516.4" r="12"/><circle cx="1597.4" cy="537" r="12"/><circle cx="1600.9" cy="565.1" r="12"/><circle cx="1581.5" cy="514.3" r="12"/><circle cx="1616.9" cy="556.7" r="12"/><circle cx="1621.2" cy="494.3" r="12"/><circle cx="1609.6" cy="537.5" r="12"/><circle cx="1587.1" cy="570.1" r="12"/><circle cx="1613.2" cy="573.2" r="12"/><circle cx="1618.9" cy="540" r="12"/><circle cx="1612.8" cy="571.9" r="12"/><circle cx="1620.7" cy="546.4" r="12"/><circle cx="1576.9" cy="507.3" r="12"/><circle cx="1622.5" cy="456.5" r="12"/><circle cx="1589.7" cy="548.1" r="12"/><circle cx="1626.3" cy="464.8" r="12"/><circle cx="1589" cy="468" r="12"/><circle cx="1619.6" cy="568.3" r="12"/><circle cx="1590.9" cy="548" r="12"/><circle cx="1599.2" cy="512.3" r="12"/><circle cx="1614.8" cy="474.4" r="12"/><circle cx="1618.2" cy="500.5" r="12"/><circle cx="1572.6" cy="512.4" r="12"/><circle cx="1604.7" cy="538.5" r="12"/><circle cx="1614" cy="510.6" r="12"/><circle cx="1597.5" cy="535.1" r="12"/><circle cx="1588.6" cy="477.7" r="12"/><circle cx="1598.7" cy="577.6" r="12"/><circle cx="1584.8" cy="549.3" r="12"/><circle cx="1587.1" cy="453.4" r="12"/><circle cx="1575" cy="492.1" r="12"/><circle cx="1624.6" cy="491.8" r="12"/><circle cx="1628.8" cy="533" r="12"/><circle cx="1611" cy="513.9" r="12"/><circle cx="1579" cy="481.4" r="12"/><circle cx="1595.8" cy="194.6" r="12"/><circle cx="1582.4" cy="224" r="12"/><circle cx="1616" cy="229.8" r="12"/><circle cx="1596.2" cy="275.8" r="12"/><circle cx="1576.6" cy="290.2" r="12"/><circle cx="1587.9" cy="354.7" r="12"/><circle cx="1582" cy="363" r="12"/><circle cx="1621.6" cy="367.9" r="12"/><circle cx="1606.3" cy="375" r="12"/><circle cx="1578.7" cy="389.5" r="12"/><circle cx="1626.8" cy="390.3" r="12"/><circle cx="1614" cy="392" r="12"/><circle cx="1620" cy="410.5" r="12"/><circle cx="1618" cy="436.8" r="12"/><circle cx="1583" cy="446" r="12"/><circle cx="1612.5" cy="455" r="12"/><circle cx="1618.1" cy="436.9" r="12"/><circle cx="1583.1" cy="446.9" r="12"/><circle cx="1623.1" cy="459.4" r="12"/><circle cx="1579.4" cy="467.5" r="12"/><circle cx="1581.9" cy="474.4" r="12"/><circle cx="1612.5" cy="472.5" r="12"/><circle cx="1627.5" cy="482.5" r="12"/><circle cx="1623.8" cy="497.5" r="12"/><circle cx="1573.8" cy="511.3" r="12"/><circle cx="1586.9" cy="506.9" r="12"/><circle cx="1586.3" cy="524.4" r="12"/><circle cx="1622.5" cy="525" r="12"/><circle cx="1621.3" cy="551.3" r="12"/><circle cx="1627.5" cy="557.5" r="12"/><circle cx="1568" cy="562.5" r="12"/><circle cx="1572.5" cy="557.5" r="12"/><circle cx="1587.5" cy="561.3" r="12"/><circle cx="1591.3" cy="573.1" r="12"/><circle cx="1608.8" cy="578.1" r="12"/><circle cx="1623.8" cy="578.8" r="12"/>
</g>
<g fill="#e56e8e" fill-opacity=".8" stroke="#000" stroke-width="2.7">
<circle cx="1766.4" cy="581.2" r="12"/><circle cx="1757.6" cy="585.5" r="12"/><circle cx="1772.9" cy="573.3" r="12"/><circle cx="1748.2" cy="573.5" r="12"/><circle cx="1775.6" cy="587" r="12"/><circle cx="1785" cy="578.1" r="12"/><circle cx="1755.4" cy="572.5" r="12"/><circle cx="1784.9" cy="582.8" r="12"/><circle cx="1753.3" cy="581.6" r="12"/><circle cx="1770" cy="564.6" r="12"/><circle cx="1756.7" cy="577.6" r="12"/><circle cx="1787.3" cy="587" r="12"/><circle cx="1749.5" cy="582.2" r="12"/><circle cx="1751.4" cy="584.5" r="12"/><circle cx="1755.6" cy="585.4" r="12"/><circle cx="1757.5" cy="586.3" r="12"/><circle cx="1789.3" cy="577.5" r="12"/><circle cx="1772.4" cy="583" r="12"/><circle cx="1757.8" cy="577.3" r="12"/><circle cx="1764.2" cy="576.9" r="12"/><circle cx="1786.2" cy="585.6" r="12"/><circle cx="1749.6" cy="583.3" r="12"/><circle cx="1758.9" cy="567.1" r="12"/><circle cx="1762.4" cy="584.5" r="12"/><circle cx="1792.5" cy="583.7" r="12"/><circle cx="1772.4" cy="584.3" r="12"/><circle cx="1775.3" cy="581.1" r="12"/><circle cx="1787.3" cy="579.4" r="12"/><circle cx="1771.8" cy="579.2" r="12"/><circle cx="1767.1" cy="562.2" r="12"/><circle cx="1758.8" cy="583.5" r="12"/><circle cx="1754.1" cy="580.9" r="12"/><circle cx="1762.9" cy="578.8" r="12"/><circle cx="1760.9" cy="585.9" r="12"/><circle cx="1748" cy="581" r="12"/><circle cx="1775.4" cy="584.4" r="12"/><circle cx="1774.1" cy="577.1" r="12"/><circle cx="1766.7" cy="582" r="12"/><circle cx="1774.8" cy="571.9" r="12"/><circle cx="1753.4" cy="583.6" r="12"/><circle cx="1760.1" cy="577.5" r="12"/><circle cx="1767.7" cy="571.2" r="12"/><circle cx="1766.2" cy="558.8" r="12"/><circle cx="1745.5" cy="563.7" r="12"/><circle cx="1788.9" cy="576.6" r="12"/><circle cx="1765.7" cy="492.5" r="12"/><circle cx="1788.9" cy="523.8" r="12"/><circle cx="1771.2" cy="530.2" r="12"/><circle cx="1800.8" cy="538.1" r="12"/><circle cx="1748" cy="540.5" r="12"/><circle cx="1783.5" cy="552.9" r="12"/><circle cx="1779.1" cy="572.6" r="12"/><circle cx="1756.9" cy="565.7" r="12"/><circle cx="1802.7" cy="585" r="12"/><circle cx="1797.8" cy="585.4" r="12"/><circle cx="1769.2" cy="589" r="12"/><circle cx="1763.8" cy="579.5" r="12"/><circle cx="1788.4" cy="586.4" r="12"/><circle cx="1746" cy="587.4" r="12"/>
</g>
<g fill="#76c65c" fill-opacity=".8" stroke="#000" stroke-width="2.7">
<circle cx="1907.2" cy="567.3" r="12"/><circle cx="1893.5" cy="565.9" r="12"/><circle cx="1913.8" cy="562.1" r="12"/><circle cx="1878.9" cy="495.2" r="12"/><circle cx="1914.7" cy="524.6" r="12"/><circle cx="1863.6" cy="525.9" r="12"/><circle cx="1864.2" cy="539.3" r="12"/><circle cx="1873.9" cy="547.8" r="12"/><circle cx="1889.1" cy="490.6" r="12"/><circle cx="1867.2" cy="498" r="12"/><circle cx="1893.6" cy="493.6" r="12"/><circle cx="1900.2" cy="505.8" r="12"/><circle cx="1908.2" cy="537.3" r="12"/><circle cx="1909.7" cy="553" r="12"/><circle cx="1876.2" cy="552.8" r="12"/><circle cx="1881.5" cy="542.3" r="12"/><circle cx="1875.8" cy="511.4" r="12"/><circle cx="1913.7" cy="567.1" r="12"/><circle cx="1883.9" cy="506.5" r="12"/><circle cx="1875.1" cy="576.4" r="12"/><circle cx="1903.8" cy="547.4" r="12"/><circle cx="1888.3" cy="559.4" r="12"/><circle cx="1902.8" cy="540.1" r="12"/><circle cx="1888.2" cy="561.5" r="12"/><circle cx="1910.3" cy="524.2" r="12"/><circle cx="1897.5" cy="519" r="12"/><circle cx="1877.5" cy="573.7" r="12"/><circle cx="1909.1" cy="550.2" r="12"/><circle cx="1878.6" cy="544.3" r="12"/><circle cx="1874.1" cy="574.1" r="12"/><circle cx="1889.7" cy="553.4" r="12"/><circle cx="1907.4" cy="512.3" r="12"/><circle cx="1876.8" cy="537.9" r="12"/><circle cx="1898.1" cy="553.2" r="12"/><circle cx="1873.1" cy="496" r="12"/><circle cx="1879.2" cy="501.9" r="12"/><circle cx="1882.6" cy="538.6" r="12"/><circle cx="1877.2" cy="516.7" r="12"/><circle cx="1881.1" cy="535.4" r="12"/><circle cx="1902.7" cy="577" r="12"/><circle cx="1884.1" cy="576.9" r="12"/><circle cx="1874.9" cy="515" r="12"/><circle cx="1904.6" cy="550.7" r="12"/><circle cx="1904.6" cy="542.4" r="12"/><circle cx="1885.3" cy="565.3" r="12"/><circle cx="1877.6" cy="490.4" r="12"/><circle cx="1885.4" cy="493.5" r="12"/><circle cx="1870" cy="510.7" r="12"/><circle cx="1904.5" cy="560.8" r="12"/><circle cx="1897.4" cy="563.9" r="12"/><circle cx="1891.6" cy="530.5" r="12"/><circle cx="1911.5" cy="561.3" r="12"/><circle cx="1895.6" cy="526.7" r="12"/><circle cx="1900" cy="522.7" r="12"/><circle cx="1891.4" cy="547.6" r="12"/><circle cx="1897.3" cy="564" r="12"/><circle cx="1912" cy="560.4" r="12"/><circle cx="1882.4" cy="520.6" r="12"/><circle cx="1915.1" cy="489.8" r="12"/><circle cx="1908.2" cy="559" r="12"/><circle cx="1867.8" cy="562.7" r="12"/><circle cx="1911.2" cy="558.9" r="12"/><circle cx="1904.8" cy="566.8" r="12"/><circle cx="1859.9" cy="526.7" r="12"/><circle cx="1911.5" cy="505.6" r="12"/><circle cx="1875.5" cy="537.9" r="12"/><circle cx="1895" cy="151.4" r="12"/><circle cx="1878.4" cy="169" r="12"/><circle cx="1899.2" cy="260.8" r="12"/><circle cx="1876.8" cy="337.6" r="12"/><circle cx="1885.8" cy="342.1" r="12"/><circle cx="1877.4" cy="365.8" r="12"/><circle cx="1880.5" cy="366.3" r="12"/><circle cx="1912.9" cy="381.6" r="12"/><circle cx="1864.2" cy="434.2" r="12"/><circle cx="1899.7" cy="442" r="12"/><circle cx="1887.9" cy="447.4" r="12"/><circle cx="1870.8" cy="447.4" r="12"/><circle cx="1912.1" cy="457.4" r="12"/><circle cx="1876" cy="464.5" r="12"/><circle cx="1859.7" cy="473.2" r="12"/><circle cx="1909" cy="468.4" r="12"/><circle cx="1915.5" cy="484.2" r="12"/><circle cx="1886.6" cy="488.2" r="12"/><circle cx="1877.5" cy="465" r="12"/><circle cx="1909.4" cy="466.9" r="12"/><circle cx="1918.1" cy="483.8" r="12"/><circle cx="1863.8" cy="433.8" r="12"/><circle cx="1888.1" cy="447.5" r="12"/><circle cx="1911.9" cy="456.3" r="12"/><circle cx="1860" cy="472.5" r="12"/><circle cx="1886.9" cy="488.1" r="12"/><circle cx="1906.3" cy="502.5" r="12"/><circle cx="1875.6" cy="515" r="12"/><circle cx="1888.1" cy="521.3" r="12"/><circle cx="1905" cy="530" r="12"/><circle cx="1859.4" cy="545.6" r="12"/><circle cx="1898.8" cy="550.6" r="12"/><circle cx="1911.3" cy="557.5" r="12"/><circle cx="1875.6" cy="557.5" r="12"/><circle cx="1862.5" cy="571.9" r="12"/><circle cx="1896.3" cy="578.1" r="12"/><circle cx="1916.3" cy="575" r="12"/>
</g>
<g fill="#e56e8e" fill-opacity=".8" stroke="#000" stroke-width="2.7">
<circle cx="322.7" cy="1316.4" r="12"/><circle cx="322.8" cy="1315" r="12"/><circle cx="322" cy="1311.7" r="12"/><circle cx="376.5" cy="1257.1" r="12"/><circle cx="362.8" cy="1308.4" r="12"/><circle cx="369" cy="1285.7" r="12"/><circle cx="356.1" cy="1309.4" r="12"/><circle cx="355.2" cy="1309.3" r="12"/><circle cx="380.7" cy="1282.5" r="12"/><circle cx="360.5" cy="1313.4" r="12"/><circle cx="343.3" cy="1316" r="12"/><circle cx="375.4" cy="1275.3" r="12"/><circle cx="378.2" cy="1286.8" r="12"/><circle cx="376.8" cy="1297.1" r="12"/><circle cx="358.5" cy="1313.8" r="12"/><circle cx="318.5" cy="1316.6" r="12"/><circle cx="358.4" cy="1315.2" r="12"/><circle cx="332.9" cy="1288.4" r="12"/><circle cx="345.8" cy="1303.5" r="12"/><circle cx="348.4" cy="1259.7" r="12"/><circle cx="330.4" cy="1286.8" r="12"/><circle cx="328.6" cy="1318.3" r="12"/><circle cx="342.8" cy="1308.9" r="12"/><circle cx="379.8" cy="1295.1" r="12"/><circle cx="340" cy="1272.6" r="12"/><circle cx="353" cy="1299.9" r="12"/><circle cx="379.9" cy="1311.4" r="12"/><circle cx="383.7" cy="1275.3" r="12"/><circle cx="341.9" cy="1292.3" r="12"/><circle cx="378.2" cy="1319.4" r="12"/><circle cx="354.6" cy="1284.6" r="12"/><circle cx="328.2" cy="1316.2" r="12"/><circle cx="358.8" cy="1313.5" r="12"/><circle cx="353.5" cy="1289.3" r="12"/><circle cx="354.5" cy="1253.6" r="12"/><circle cx="373.7" cy="1304.8" r="12"/><circle cx="368.6" cy="1295" r="12"/><circle cx="383.5" cy="1317.3" r="12"/><circle cx="357.8" cy="1308.2" r="12"/><circle cx="369.6" cy="1272" r="12"/><circle cx="376.2" cy="1300.4" r="12"/><circle cx="354.2" cy="1265.7" r="12"/><circle cx="348.5" cy="1303.3" r="12"/><circle cx="350.2" cy="1252.8" r="12"/><circle cx="327.7" cy="1304.6" r="12"/><circle cx="330.3" cy="1317.4" r="12"/><circle cx="365.2" cy="1288.8" r="12"/><circle cx="336.9" cy="1308" r="12"/><circle cx="345.4" cy="1290.9" r="12"/><circle cx="354.6" cy="1280.8" r="12"/><circle cx="374.3" cy="1311.2" r="12"/><circle cx="323.9" cy="1309.6" r="12"/><circle cx="322.3" cy="1313.8" r="12"/><circle cx="353.6" cy="1319.4" r="12"/><circle cx="348.6" cy="1256.7" r="12"/><circle cx="326.2" cy="1315" r="12"/><circle cx="322.8" cy="1307.1" r="12"/><circle cx="363.9" cy="1319.1" r="12"/><circle cx="340.7" cy="1308.8" r="12"/><circle cx="341.2" cy="1318.2" r="12"/><circle cx="360.8" cy="1309.8" r="12"/><circle cx="317.7" cy="1311" r="12"/><circle cx="325" cy="1301.1" r="12"/><circle cx="359.9" cy="1309.2" r="12"/><circle cx="350.5" cy="1319.4" r="12"/><circle cx="348.8" cy="1304" r="12"/><circle cx="351.6" cy="1289.8" r="12"/><circle cx="328.2" cy="1294.7" r="12"/><circle cx="382" cy="1309.7" r="12"/><circle cx="328.9" cy="1308.6" r="12"/><circle cx="322.7" cy="1307.1" r="12"/><circle cx="317.6" cy="1295.1" r="12"/><circle cx="364.3" cy="1292.4" r="12"/><circle cx="356.2" cy="1316.9" r="12"/><circle cx="344.5" cy="1319.1" r="12"/><circle cx="363.7" cy="1308.8" r="12"/><circle cx="326.9" cy="1314.3" r="12"/><circle cx="369.7" cy="1311.6" r="12"/><circle cx="375.5" cy="1309" r="12"/><circle cx="340.9" cy="1319.4" r="12"/><circle cx="358" cy="1318.9" r="12"/><circle cx="339.4" cy="1300.7" r="12"/><circle cx="330.4" cy="1308.6" r="12"/><circle cx="374.8" cy="1254.6" r="12"/><circle cx="360" cy="1174.3" r="12"/><circle cx="322.5" cy="1226.3" r="12"/><circle cx="348.3" cy="1220.5" r="12"/><circle cx="333.8" cy="1223.8" r="12"/><circle cx="378" cy="1246.3" r="12"/><circle cx="368.8" cy="1249.5" r="12"/><circle cx="382" cy="1262.5" r="12"/><circle cx="340" cy="1260" r="12"/><circle cx="350" cy="1265" r="12"/><circle cx="360" cy="1260" r="12"/><circle cx="347.5" cy="1270" r="12"/><circle cx="362.5" cy="1272.5" r="12"/><circle cx="378.8" cy="1277.5" r="12"/><circle cx="370" cy="1290" r="12"/><circle cx="316.3" cy="1290" r="12"/><circle cx="320" cy="1300" r="12"/><circle cx="336.3" cy="1297.5" r="12"/><circle cx="350" cy="1307.5" r="12"/><circle cx="315" cy="1311.3" r="12"/><circle cx="375" cy="1317.5" r="12"/>
</g>
<g fill="#76c65c" fill-opacity=".8" stroke="#000" stroke-width="2.7">
<circle cx="470.1" cy="1302" r="12"/><circle cx="458.7" cy="1180.7" r="12"/><circle cx="492.6" cy="1235.7" r="12"/><circle cx="499.3" cy="1244.9" r="12"/><circle cx="504.1" cy="1243.1" r="12"/><circle cx="466.6" cy="1258.6" r="12"/><circle cx="464.5" cy="1295.3" r="12"/><circle cx="509.1" cy="1251.9" r="12"/><circle cx="512" cy="1166.7" r="12"/><circle cx="508.8" cy="1171" r="12"/><circle cx="506.2" cy="1256.1" r="12"/><circle cx="482.8" cy="1191.6" r="12"/><circle cx="501.7" cy="1165.5" r="12"/><circle cx="516.3" cy="1220.2" r="12"/><circle cx="466.5" cy="1240.2" r="12"/><circle cx="504.7" cy="1166.9" r="12"/><circle cx="477.5" cy="1235.7" r="12"/><circle cx="489" cy="1195.3" r="12"/><circle cx="463" cy="1208.7" r="12"/><circle cx="482.8" cy="1186.6" r="12"/><circle cx="456.3" cy="1206.1" r="12"/><circle cx="469.3" cy="1283.7" r="12"/><circle cx="464.7" cy="1176.9" r="12"/><circle cx="475.5" cy="1268.1" r="12"/><circle cx="498.5" cy="1273.2" r="12"/><circle cx="496.6" cy="1207" r="12"/><circle cx="479.5" cy="1270.4" r="12"/><circle cx="496.4" cy="1244.5" r="12"/><circle cx="497.9" cy="1282.3" r="12"/><circle cx="514.3" cy="1260.5" r="12"/><circle cx="501.6" cy="1203.7" r="12"/><circle cx="459.1" cy="1213.9" r="12"/><circle cx="472.3" cy="1204.9" r="12"/><circle cx="466.6" cy="1260.6" r="12"/><circle cx="517" cy="1161.6" r="12"/><circle cx="494.2" cy="1189.1" r="12"/><circle cx="503.9" cy="1261.2" r="12"/><circle cx="479.5" cy="1212.8" r="12"/><circle cx="510.6" cy="1285.6" r="12"/><circle cx="486.8" cy="1270.6" r="12"/><circle cx="516.2" cy="1180.1" r="12"/><circle cx="512.7" cy="1223.1" r="12"/><circle cx="507.6" cy="1238.5" r="12"/><circle cx="500.3" cy="1213.8" r="12"/><circle cx="508.1" cy="1272" r="12"/><circle cx="503.2" cy="1223.6" r="12"/><circle cx="452.4" cy="1278.9" r="12"/><circle cx="493.3" cy="1279.3" r="12"/><circle cx="490.9" cy="1241.9" r="12"/><circle cx="501.6" cy="1285" r="12"/><circle cx="484.7" cy="1171.2" r="12"/><circle cx="498" cy="1248.5" r="12"/><circle cx="499" cy="1271.8" r="12"/><circle cx="474" cy="1254.5" r="12"/><circle cx="493.6" cy="1289.7" r="12"/><circle cx="487.8" cy="1182.5" r="12"/><circle cx="517.6" cy="1210.3" r="12"/><circle cx="477.5" cy="1210.9" r="12"/><circle cx="460.8" cy="1181.9" r="12"/><circle cx="464.6" cy="1252.1" r="12"/><circle cx="479.4" cy="1276.9" r="12"/><circle cx="460.4" cy="1222.7" r="12"/><circle cx="454.3" cy="1259.8" r="12"/><circle cx="469.1" cy="1295.1" r="12"/><circle cx="505.1" cy="1258.4" r="12"/><circle cx="468" cy="1208" r="12"/><circle cx="496.5" cy="1279.1" r="12"/><circle cx="510.4" cy="1199.6" r="12"/><circle cx="517.9" cy="1243.6" r="12"/><circle cx="511.5" cy="896.9" r="12"/><circle cx="514" cy="956" r="12"/><circle cx="451.5" cy="979.1" r="12"/><circle cx="496.5" cy="994.1" r="12"/><circle cx="493.5" cy="1007.9" r="12"/><circle cx="508" cy="1022" r="12"/><circle cx="460.5" cy="1037.6" r="12"/><circle cx="488.4" cy="1061.9" r="12"/><circle cx="480" cy="1079" r="12"/><circle cx="475" cy="1083" r="12"/><circle cx="498.6" cy="1095.5" r="12"/><circle cx="472.5" cy="1100" r="12"/><circle cx="500.4" cy="1112" r="12"/><circle cx="483" cy="1113.5" r="12"/><circle cx="457" cy="1123" r="12"/><circle cx="518" cy="1131.5" r="12"/><circle cx="475" cy="1145" r="12"/><circle cx="508.5" cy="1145" r="12"/><circle cx="489.6" cy="1154" r="12"/><circle cx="516" cy="1157" r="12"/><circle cx="458" cy="1164.5" r="12"/><circle cx="517.5" cy="1310.8" r="12"/><circle cx="473.8" cy="1307.5" r="12"/><circle cx="491.3" cy="1307.5" r="12"/><circle cx="450" cy="1192.5" r="12"/><circle cx="521.3" cy="1251.3" r="12"/><circle cx="476.3" cy="1142.5" r="12"/><circle cx="508.1" cy="1145" r="12"/><circle cx="490" cy="1152.5" r="12"/><circle cx="458.8" cy="1163.1" r="12"/><circle cx="518.1" cy="1170" r="12"/><circle cx="501.3" cy="1175" r="12"/><circle cx="463.1" cy="1186.3" r="12"/><circle cx="486.9" cy="1188.8" r="12"/><circle cx="456.3" cy="1206.3" r="12"/><circle cx="475" cy="1202.5" r="12"/><circle cx="511.9" cy="1205" r="12"/><circle cx="514.4" cy="1213.1" r="12"/><circle cx="486.3" cy="1225" r="12"/><circle cx="499.4" cy="1230.6" r="12"/><circle cx="514.4" cy="1235.6" r="12"/><circle cx="473.1" cy="1236.3" r="12"/><circle cx="454.4" cy="1240.6" r="12"/><circle cx="501.3" cy="1253.8" r="12"/><circle cx="460.6" cy="1257.5" r="12"/><circle cx="486.9" cy="1262.5" r="12"/><circle cx="516.9" cy="1273.1" r="12"/><circle cx="450.6" cy="1276.3" r="12"/><circle cx="496.3" cy="1279.4" r="12"/><circle cx="473.1" cy="1283.8" r="12"/><circle cx="451.9" cy="1292.5" r="12"/><circle cx="473.8" cy="1293.1" r="12"/><circle cx="494.4" cy="1293.8" r="12"/><circle cx="473.1" cy="1306.9" r="12"/><circle cx="492.5" cy="1307.5" r="12"/><circle cx="517.5" cy="1311.3" r="12"/>
</g>
<g fill="#e56e8e" fill-opacity=".8" stroke="#000" stroke-width="2.7">
<circle cx="690" cy="1314.7" r="12"/><circle cx="691.4" cy="1316.7" r="12"/><circle cx="682.3" cy="1298.7" r="12"/><circle cx="671.8" cy="1315.1" r="12"/><circle cx="666.8" cy="1318.8" r="12"/><circle cx="686.8" cy="1317.8" r="12"/><circle cx="710" cy="1312.3" r="12"/><circle cx="669.6" cy="1318.6" r="12"/><circle cx="717.5" cy="1319.5" r="12"/><circle cx="701.6" cy="1288.4" r="12"/><circle cx="687.1" cy="1302.4" r="12"/><circle cx="666.1" cy="1313.2" r="12"/><circle cx="695.4" cy="1315.2" r="12"/><circle cx="666.1" cy="1314" r="12"/><circle cx="720.6" cy="1318.8" r="12"/><circle cx="674.8" cy="1315.6" r="12"/><circle cx="712.5" cy="1315.4" r="12"/><circle cx="667.8" cy="1298.8" r="12"/><circle cx="675" cy="1317" r="12"/><circle cx="678.4" cy="1315.7" r="12"/><circle cx="718.9" cy="1318.2" r="12"/><circle cx="716.7" cy="1311" r="12"/><circle cx="657.3" cy="1318.7" r="12"/><circle cx="684.9" cy="1310.5" r="12"/><circle cx="669.4" cy="1298.1" r="12"/><circle cx="678" cy="1308.6" r="12"/><circle cx="661.3" cy="1299.1" r="12"/><circle cx="677.5" cy="1315.1" r="12"/><circle cx="682.2" cy="1319" r="12"/><circle cx="673.1" cy="1318.2" r="12"/><circle cx="661.9" cy="1316.1" r="12"/><circle cx="723" cy="1163" r="12"/><circle cx="685" cy="1167.5" r="12"/><circle cx="705" cy="1174.5" r="12"/><circle cx="658" cy="1182" r="12"/><circle cx="672" cy="1198.8" r="12"/><circle cx="676.3" cy="1205" r="12"/><circle cx="691.3" cy="1206.3" r="12"/><circle cx="682.5" cy="1233" r="12"/><circle cx="698.3" cy="1248.8" r="12"/><circle cx="665" cy="1253.8" r="12"/><circle cx="677" cy="1251.3" r="12"/><circle cx="687.5" cy="1272.5" r="12"/><circle cx="677.5" cy="1271" r="12"/><circle cx="657.5" cy="1281.3" r="12"/><circle cx="673.8" cy="1290" r="12"/><circle cx="690" cy="1291.3" r="12"/><circle cx="670" cy="1303.8" r="12"/><circle cx="661" cy="1301" r="12"/><circle cx="682.5" cy="1306" r="12"/><circle cx="695" cy="1307.5" r="12"/><circle cx="707.5" cy="1310" r="12"/><circle cx="721.3" cy="1310" r="12"/><circle cx="657.5" cy="1318.8" r="12"/><circle cx="667.5" cy="1320" r="12"/><circle cx="690" cy="1317.5" r="12"/><circle cx="700" cy="1318.8" r="12"/><circle cx="715" cy="1317.5" r="12"/>
</g>
<g fill="#76c65c" fill-opacity=".8" stroke="#000" stroke-width="2.7">
<circle cx="822.5" cy="992.5" r="12"/><circle cx="823.8" cy="1007.5" r="12"/><circle cx="858.8" cy="1059" r="12"/><circle cx="831.3" cy="1065.5" r="12"/><circle cx="825" cy="1077.5" r="12"/><circle cx="840" cy="1098.8" r="12"/><circle cx="813.8" cy="1098.8" r="12"/><circle cx="835" cy="1107.5" r="12"/><circle cx="807.5" cy="1120" r="12"/><circle cx="803.8" cy="1121.3" r="12"/><circle cx="821.3" cy="1135" r="12"/><circle cx="792.5" cy="1142.5" r="12"/><circle cx="804.5" cy="1177.5" r="12"/><circle cx="791.8" cy="1185" r="12"/><circle cx="823.3" cy="1205" r="12"/><circle cx="801.3" cy="1230" r="12"/><circle cx="821.3" cy="1232.5" r="12"/><circle cx="856.3" cy="1233.8" r="12"/><circle cx="806.3" cy="1255" r="12"/><circle cx="810" cy="1260" r="12"/><circle cx="791.3" cy="1263.8" r="12"/><circle cx="832.5" cy="1265" r="12"/><circle cx="853.8" cy="1260" r="12"/><circle cx="850" cy="1270" r="12"/><circle cx="791.3" cy="1270" r="12"/><circle cx="812.5" cy="1280" r="12"/><circle cx="818.8" cy="1282.5" r="12"/><circle cx="858.8" cy="1278.8" r="12"/><circle cx="792.5" cy="1285" r="12"/><circle cx="835" cy="1285" r="12"/><circle cx="793.8" cy="1293.8" r="12"/><circle cx="858.8" cy="1296.3" r="12"/><circle cx="835" cy="1301.3" r="12"/><circle cx="798.8" cy="1302.5" r="12"/><circle cx="828.8" cy="1310" r="12"/><circle cx="848.8" cy="1312.5" r="12"/>
</g>
<g fill="#e56e8e" fill-opacity=".8" stroke="#000" stroke-width="2.7">
<circle cx="1013.2" cy="1296.5" r="12"/><circle cx="1050" cy="1316.4" r="12"/><circle cx="1019.8" cy="1305.6" r="12"/><circle cx="1054.8" cy="1308.5" r="12"/><circle cx="1041.6" cy="1296.5" r="12"/><circle cx="1020.2" cy="1306" r="12"/><circle cx="1041" cy="1306.3" r="12"/><circle cx="1022.7" cy="1305.7" r="12"/><circle cx="1025.7" cy="1310.3" r="12"/><circle cx="1028.6" cy="1310.6" r="12"/><circle cx="1008" cy="1316.7" r="12"/><circle cx="1035.4" cy="1316.3" r="12"/><circle cx="1043.2" cy="1309.6" r="12"/><circle cx="1036.8" cy="1300.3" r="12"/><circle cx="1039.7" cy="1302.2" r="12"/><circle cx="1051.2" cy="1295.1" r="12"/><circle cx="1006.4" cy="1307.9" r="12"/><circle cx="1011.6" cy="1298.8" r="12"/><circle cx="1059.2" cy="1310.6" r="12"/><circle cx="1022.8" cy="1299" r="12"/><circle cx="1013.8" cy="1309.3" r="12"/><circle cx="1046.6" cy="1316.2" r="12"/><circle cx="1045.1" cy="1317.6" r="12"/><circle cx="1014.5" cy="1300.1" r="12"/><circle cx="1008.3" cy="1307.3" r="12"/><circle cx="1033.8" cy="1185" r="12"/><circle cx="1031.8" cy="1205" r="12"/><circle cx="1044.5" cy="1211.8" r="12"/><circle cx="1022.5" cy="1220" r="12"/><circle cx="1054" cy="1232.5" r="12"/><circle cx="1052.5" cy="1231.3" r="12"/><circle cx="1010" cy="1236.3" r="12"/><circle cx="1031.3" cy="1235" r="12"/><circle cx="1016.3" cy="1252.5" r="12"/><circle cx="1035.8" cy="1253.8" r="12"/><circle cx="1030" cy="1250" r="12"/><circle cx="1051.8" cy="1267.5" r="12"/><circle cx="1007.5" cy="1280" r="12"/><circle cx="1018.8" cy="1282.5" r="12"/><circle cx="1029.3" cy="1281.3" r="12"/><circle cx="998.8" cy="1297.5" r="12"/><circle cx="1052.5" cy="1300" r="12"/><circle cx="1062.5" cy="1307.5" r="12"/><circle cx="1015" cy="1305" r="12"/><circle cx="1035" cy="1305" r="12"/><circle cx="997.5" cy="1312.5" r="12"/><circle cx="1011.3" cy="1318.8" r="12"/><circle cx="1027.5" cy="1317.5" r="12"/><circle cx="1051.8" cy="1316.3" r="12"/>
</g>
<g fill="#76c65c" fill-opacity=".8" stroke="#000" stroke-width="2.7">
<circle cx="1159.4" cy="1259.2" r="12"/><circle cx="1146.2" cy="1267.4" r="12"/><circle cx="1184.8" cy="1279.1" r="12"/><circle cx="1171.3" cy="1287.4" r="12"/><circle cx="1193.1" cy="1252.3" r="12"/><circle cx="1152.8" cy="1264.6" r="12"/><circle cx="1154" cy="1298.9" r="12"/><circle cx="1147.6" cy="1245.9" r="12"/><circle cx="1188" cy="1224.6" r="12"/><circle cx="1156.9" cy="1271.1" r="12"/><circle cx="1150.3" cy="1269.3" r="12"/><circle cx="1187.1" cy="1276.7" r="12"/><circle cx="1170.8" cy="1274.5" r="12"/><circle cx="1171.5" cy="1247.9" r="12"/><circle cx="1181.3" cy="1246.4" r="12"/><circle cx="1141.8" cy="1229.2" r="12"/><circle cx="1138.7" cy="1281.3" r="12"/><circle cx="1137.7" cy="1284.1" r="12"/><circle cx="1138.9" cy="1284.8" r="12"/><circle cx="1155.6" cy="1231.7" r="12"/><circle cx="1161" cy="1239.6" r="12"/><circle cx="1191.8" cy="1262.2" r="12"/><circle cx="1173.1" cy="1242.4" r="12"/><circle cx="1138.3" cy="1282.6" r="12"/><circle cx="1174.7" cy="1279.4" r="12"/><circle cx="1191.7" cy="1231.1" r="12"/><circle cx="1173.3" cy="1239.3" r="12"/><circle cx="1164.2" cy="1236.4" r="12"/><circle cx="1150.2" cy="1301.4" r="12"/><circle cx="1164.7" cy="1287" r="12"/><circle cx="1162.4" cy="1255.2" r="12"/><circle cx="1185.1" cy="1297.8" r="12"/><circle cx="1177.4" cy="1234" r="12"/><circle cx="1189.4" cy="1298.9" r="12"/><circle cx="1191.7" cy="1254.2" r="12"/><circle cx="1184" cy="1295.3" r="12"/><circle cx="1148.3" cy="1277.6" r="12"/><circle cx="1183.5" cy="1295" r="12"/><circle cx="1155.3" cy="1302.7" r="12"/><circle cx="1190.5" cy="1235.2" r="12"/><circle cx="1175.9" cy="1277.6" r="12"/><circle cx="1182.5" cy="1252.9" r="12"/><circle cx="1160.3" cy="1236.1" r="12"/><circle cx="1171" cy="1290.4" r="12"/><circle cx="1178.3" cy="1237.4" r="12"/><circle cx="1155" cy="1148.3" r="12"/><circle cx="1134.3" cy="1164.3" r="12"/><circle cx="1172.5" cy="1182.5" r="12"/><circle cx="1158.8" cy="1183.8" r="12"/><circle cx="1144.5" cy="1187.5" r="12"/><circle cx="1151.3" cy="1220" r="12"/><circle cx="1158.8" cy="1217.5" r="12"/><circle cx="1187.5" cy="1222.5" r="12"/><circle cx="1155" cy="1232.5" r="12"/><circle cx="1180" cy="1235" r="12"/><circle cx="1188.8" cy="1237.5" r="12"/><circle cx="1133.8" cy="1243.3" r="12"/><circle cx="1197.5" cy="1247.5" r="12"/><circle cx="1173.8" cy="1250" r="12"/><circle cx="1171.3" cy="1257.5" r="12"/><circle cx="1197.5" cy="1257.5" r="12"/><circle cx="1155" cy="1262.5" r="12"/><circle cx="1191.3" cy="1270" r="12"/><circle cx="1141.3" cy="1272.5" r="12"/><circle cx="1147.5" cy="1282.5" r="12"/><circle cx="1162.5" cy="1295" r="12"/><circle cx="1177.5" cy="1296.3" r="12"/><circle cx="1135" cy="1292.5" r="12"/><circle cx="1192.5" cy="1292.5" r="12"/><circle cx="1136.3" cy="1312.5" r="12"/><circle cx="1150" cy="1307.5" r="12"/><circle cx="1180" cy="1307.5" r="12"/><circle cx="1182.5" cy="1311.3" r="12"/>
</g>
<g fill="#e56e8e" fill-opacity=".8" stroke="#000" stroke-width="2.7">
<circle cx="1360.2" cy="1306.6" r="12"/><circle cx="1386.5" cy="1312.3" r="12"/><circle cx="1354.4" cy="1290.4" r="12"/><circle cx="1396" cy="1317.9" r="12"/><circle cx="1344.9" cy="1289.2" r="12"/><circle cx="1400.5" cy="1319" r="12"/><circle cx="1357" cy="1285.1" r="12"/><circle cx="1396.2" cy="1310.7" r="12"/><circle cx="1369.1" cy="1270.9" r="12"/><circle cx="1350.8" cy="1285" r="12"/><circle cx="1375.3" cy="1316.9" r="12"/><circle cx="1348.8" cy="1316" r="12"/><circle cx="1392.2" cy="1273.7" r="12"/><circle cx="1372.4" cy="1305.9" r="12"/><circle cx="1342.2" cy="1273.1" r="12"/><circle cx="1354.4" cy="1291.9" r="12"/><circle cx="1344" cy="1285.2" r="12"/><circle cx="1361.4" cy="1283.4" r="12"/><circle cx="1353.1" cy="1302" r="12"/><circle cx="1396.6" cy="1281.3" r="12"/><circle cx="1400.6" cy="1294.5" r="12"/><circle cx="1399.8" cy="1279.8" r="12"/><circle cx="1374.4" cy="1272.3" r="12"/><circle cx="1394.1" cy="1309.3" r="12"/><circle cx="1370.7" cy="1306" r="12"/><circle cx="1350.6" cy="1279.1" r="12"/><circle cx="1372.9" cy="1281.4" r="12"/><circle cx="1363.5" cy="1293.9" r="12"/><circle cx="1391.1" cy="1312" r="12"/><circle cx="1347.1" cy="1299.8" r="12"/><circle cx="1380.6" cy="1274.8" r="12"/><circle cx="1389.9" cy="1278.9" r="12"/><circle cx="1341.6" cy="1290.3" r="12"/><circle cx="1388.6" cy="1269.8" r="12"/><circle cx="1360.5" cy="1285.2" r="12"/><circle cx="1360.5" cy="1268.7" r="12"/><circle cx="1376.9" cy="1290.4" r="12"/><circle cx="1344.3" cy="1291.6" r="12"/><circle cx="1341.2" cy="1283" r="12"/><circle cx="1398.1" cy="1317.7" r="12"/><circle cx="1384.3" cy="1298.9" r="12"/><circle cx="1364.9" cy="1273.6" r="12"/><circle cx="1342.4" cy="1292.5" r="12"/><circle cx="1402.3" cy="1273.9" r="12"/><circle cx="1345.9" cy="1271.8" r="12"/><circle cx="1348.6" cy="1270.2" r="12"/><circle cx="1343.5" cy="1280.3" r="12"/><circle cx="1348.1" cy="1280.8" r="12"/><circle cx="1381.5" cy="1318" r="12"/><circle cx="1401.1" cy="1306.3" r="12"/><circle cx="1378" cy="1314.8" r="12"/><circle cx="1356.7" cy="1275.1" r="12"/><circle cx="1392.5" cy="1318" r="12"/><circle cx="1359.4" cy="1272.2" r="12"/><circle cx="1380" cy="1317.4" r="12"/><circle cx="1336.3" cy="1114.5" r="12"/><circle cx="1338.8" cy="1201.3" r="12"/><circle cx="1347.5" cy="1223.8" r="12"/><circle cx="1375" cy="1220" r="12"/><circle cx="1395.8" cy="1222.5" r="12"/><circle cx="1346.3" cy="1235" r="12"/><circle cx="1378.8" cy="1240" r="12"/><circle cx="1342.5" cy="1246.3" r="12"/><circle cx="1353.8" cy="1252.5" r="12"/><circle cx="1386.3" cy="1255" r="12"/><circle cx="1401.3" cy="1257.5" r="12"/><circle cx="1337.5" cy="1257.5" r="12"/><circle cx="1345" cy="1262.5" r="12"/><circle cx="1400" cy="1268.8" r="12"/><circle cx="1370" cy="1277.5" r="12"/><circle cx="1363.8" cy="1283.8" r="12"/><circle cx="1385" cy="1285" r="12"/><circle cx="1338.8" cy="1293.8" r="12"/><circle cx="1388.8" cy="1297.5" r="12"/><circle cx="1337.5" cy="1303.8" r="12"/><circle cx="1402.5" cy="1306.3" r="12"/><circle cx="1355" cy="1310" r="12"/><circle cx="1376.3" cy="1310" r="12"/><circle cx="1350" cy="1318.8" r="12"/><circle cx="1372.5" cy="1318.8" r="12"/><circle cx="1401.3" cy="1318.8" r="12"/>
</g>
<g fill="#76c65c" fill-opacity=".8" stroke="#000" stroke-width="2.7">
<circle cx="1491.7" cy="1251.3" r="12"/><circle cx="1522.5" cy="1295.7" r="12"/><circle cx="1475.7" cy="1228.7" r="12"/><circle cx="1512.5" cy="1236.5" r="12"/><circle cx="1538.2" cy="1248.3" r="12"/><circle cx="1478.2" cy="1197.2" r="12"/><circle cx="1533.5" cy="1294.9" r="12"/><circle cx="1515.8" cy="1213.9" r="12"/><circle cx="1509.4" cy="1223.2" r="12"/><circle cx="1489.9" cy="1294.3" r="12"/><circle cx="1509.4" cy="1263.6" r="12"/><circle cx="1502.5" cy="1220.3" r="12"/><circle cx="1519.2" cy="1235.3" r="12"/><circle cx="1480.8" cy="1196.1" r="12"/><circle cx="1520.4" cy="1261.4" r="12"/><circle cx="1521.5" cy="1290.2" r="12"/><circle cx="1514.3" cy="1241.6" r="12"/><circle cx="1527.6" cy="1254.3" r="12"/><circle cx="1536.5" cy="1248.7" r="12"/><circle cx="1498.4" cy="1223.3" r="12"/><circle cx="1533.1" cy="1249.5" r="12"/><circle cx="1510.1" cy="1246.7" r="12"/><circle cx="1510.3" cy="1223.3" r="12"/><circle cx="1512.2" cy="1287.2" r="12"/><circle cx="1512" cy="1219.2" r="12"/><circle cx="1482.6" cy="1213.1" r="12"/><circle cx="1477.2" cy="1262.4" r="12"/><circle cx="1505.5" cy="1227.7" r="12"/><circle cx="1534.8" cy="1289.1" r="12"/><circle cx="1514.9" cy="1294.7" r="12"/><circle cx="1480.2" cy="1232.1" r="12"/><circle cx="1490.1" cy="1269.9" r="12"/><circle cx="1528.4" cy="1236.2" r="12"/><circle cx="1504.2" cy="1215" r="12"/><circle cx="1480.9" cy="1229.9" r="12"/><circle cx="1490.7" cy="1291.5" r="12"/><circle cx="1524.5" cy="1268.7" r="12"/><circle cx="1535.6" cy="1249.7" r="12"/><circle cx="1523.1" cy="1228.8" r="12"/><circle cx="1508.2" cy="1251.4" r="12"/><circle cx="1536.7" cy="1237.5" r="12"/><circle cx="1530.6" cy="1285.6" r="12"/><circle cx="1531" cy="1253.9" r="12"/><circle cx="1493.8" cy="1220.7" r="12"/><circle cx="1519.4" cy="1286.5" r="12"/><circle cx="1522.8" cy="1285.7" r="12"/><circle cx="1537.6" cy="1272.5" r="12"/><circle cx="1524" cy="1241" r="12"/><circle cx="1514.4" cy="1233.9" r="12"/><circle cx="1535.1" cy="1273.5" r="12"/><circle cx="1476.7" cy="1270.2" r="12"/><circle cx="1534.6" cy="1293.6" r="12"/><circle cx="1527.4" cy="1285.4" r="12"/><circle cx="1536.3" cy="1274.8" r="12"/><circle cx="1498.8" cy="1296.2" r="12"/><circle cx="1508.1" cy="1226.7" r="12"/><circle cx="1529.5" cy="1233.6" r="12"/><circle cx="1505.5" cy="1264.7" r="12"/><circle cx="1497.7" cy="1217.7" r="12"/><circle cx="1506.7" cy="1283.7" r="12"/><circle cx="1501.7" cy="1286.8" r="12"/><circle cx="1497.8" cy="1209.4" r="12"/><circle cx="1517.9" cy="1241.4" r="12"/><circle cx="1526.1" cy="1290.6" r="12"/><circle cx="1526.9" cy="1264.7" r="12"/><circle cx="1479" cy="1240" r="12"/><circle cx="1483.9" cy="1224.3" r="12"/><circle cx="1518.3" cy="1232.9" r="12"/><circle cx="1517.2" cy="1270.3" r="12"/><circle cx="1503.9" cy="1278.4" r="12"/><circle cx="1507.4" cy="1269.5" r="12"/><circle cx="1485.1" cy="1232.2" r="12"/><circle cx="1514.7" cy="1237.9" r="12"/><circle cx="1513.5" cy="1265.8" r="12"/><circle cx="1472.5" cy="855.8" r="12"/><circle cx="1534.5" cy="883.8" r="12"/><circle cx="1473.3" cy="901.8" r="12"/><circle cx="1510.8" cy="912.5" r="12"/><circle cx="1477.5" cy="926.3" r="12"/><circle cx="1537.5" cy="953" r="12"/><circle cx="1488.8" cy="957.5" r="12"/><circle cx="1505" cy="961.3" r="12"/><circle cx="1536.8" cy="1010" r="12"/><circle cx="1513.8" cy="1054.5" r="12"/><circle cx="1485" cy="1071.3" r="12"/><circle cx="1526.3" cy="1073.8" r="12"/><circle cx="1478.8" cy="1087.5" r="12"/><circle cx="1523.8" cy="1088.8" r="12"/><circle cx="1516.3" cy="1101.3" r="12"/><circle cx="1486.3" cy="1107.5" r="12"/><circle cx="1500" cy="1110" r="12"/><circle cx="1522.5" cy="1121.3" r="12"/><circle cx="1532.5" cy="1122.5" r="12"/><circle cx="1536.3" cy="1152.5" r="12"/><circle cx="1520" cy="1166.3" r="12"/><circle cx="1540" cy="1180" r="12"/><circle cx="1500" cy="1188.8" r="12"/><circle cx="1477.5" cy="1192.5" r="12"/><circle cx="1522.5" cy="1196.3" r="12"/><circle cx="1476.3" cy="1205" r="12"/><circle cx="1501.3" cy="1201.3" r="12"/><circle cx="1510" cy="1210" r="12"/><circle cx="1518.8" cy="1217.5" r="12"/><circle cx="1475" cy="1226.3" r="12"/><circle cx="1501.3" cy="1231.3" r="12"/><circle cx="1522.5" cy="1246.3" r="12"/><circle cx="1538.8" cy="1245" r="12"/><circle cx="1473.8" cy="1242.5" r="12"/><circle cx="1495" cy="1247.5" r="12"/><circle cx="1501.3" cy="1263.8" r="12"/><circle cx="1527.5" cy="1260" r="12"/><circle cx="1483.8" cy="1267.5" r="12"/><circle cx="1535" cy="1277.5" r="12"/><circle cx="1475" cy="1285" r="12"/><circle cx="1512.5" cy="1291.3" r="12"/><circle cx="1532.5" cy="1292.5" r="12"/><circle cx="1540" cy="1295" r="12"/><circle cx="1477.5" cy="1300" r="12"/><circle cx="1486.3" cy="1301.3" r="12"/>
</g>
<g fill="#e56e8e" fill-opacity=".8" stroke="#000" stroke-width="2.7">
<circle cx="1703.6" cy="1305.8" r="12"/><circle cx="1735.2" cy="1269.9" r="12"/><circle cx="1707.2" cy="1310.3" r="12"/><circle cx="1705" cy="1286.3" r="12"/><circle cx="1702.4" cy="1302.9" r="12"/><circle cx="1726.1" cy="1301" r="12"/><circle cx="1682.3" cy="1284.4" r="12"/><circle cx="1723.6" cy="1306.8" r="12"/><circle cx="1705" cy="1280.5" r="12"/><circle cx="1710" cy="1292.5" r="12"/><circle cx="1680" cy="1304.8" r="12"/><circle cx="1743.3" cy="1276.2" r="12"/><circle cx="1680.6" cy="1300.3" r="12"/><circle cx="1707.9" cy="1297.2" r="12"/><circle cx="1681.1" cy="1283.3" r="12"/><circle cx="1712.2" cy="1296.3" r="12"/><circle cx="1684.1" cy="1293.1" r="12"/><circle cx="1710.5" cy="1280.8" r="12"/><circle cx="1697.3" cy="1289" r="12"/><circle cx="1692.3" cy="1291.6" r="12"/><circle cx="1726.5" cy="1316.9" r="12"/><circle cx="1704.4" cy="1300.2" r="12"/><circle cx="1727.8" cy="1284.1" r="12"/><circle cx="1703.1" cy="1304.2" r="12"/><circle cx="1734.3" cy="1297.8" r="12"/><circle cx="1697.3" cy="1269.9" r="12"/><circle cx="1715.6" cy="1285.3" r="12"/><circle cx="1717.3" cy="1309.9" r="12"/><circle cx="1695.9" cy="1288.7" r="12"/><circle cx="1706" cy="1288.6" r="12"/><circle cx="1706.3" cy="1130" r="12"/><circle cx="1698.8" cy="1231.3" r="12"/><circle cx="1728.8" cy="1227.5" r="12"/><circle cx="1735" cy="1238.8" r="12"/><circle cx="1717.5" cy="1242.5" r="12"/><circle cx="1678.8" cy="1246.3" r="12"/><circle cx="1691.3" cy="1240" r="12"/><circle cx="1681.3" cy="1256.3" r="12"/><circle cx="1743.8" cy="1258.8" r="12"/><circle cx="1711.3" cy="1262.5" r="12"/><circle cx="1696.3" cy="1275" r="12"/><circle cx="1680" cy="1275" r="12"/><circle cx="1725" cy="1277.5" r="12"/><circle cx="1717.5" cy="1282.5" r="12"/><circle cx="1742.5" cy="1286.3" r="12"/><circle cx="1677.5" cy="1285" r="12"/><circle cx="1697.5" cy="1297.5" r="12"/><circle cx="1726.3" cy="1296.3" r="12"/><circle cx="1742.5" cy="1303.8" r="12"/><circle cx="1685" cy="1307.5" r="12"/><circle cx="1707.5" cy="1306.3" r="12"/><circle cx="1736.3" cy="1312.5" r="12"/><circle cx="1691.3" cy="1318.8" r="12"/><circle cx="1713.8" cy="1317.5" r="12"/><circle cx="1682.5" cy="1317.5" r="12"/><circle cx="1730" cy="1320" r="12"/>
</g>
<g fill="#76c65c" fill-opacity=".8" stroke="#000" stroke-width="2.7">
<circle cx="1874.3" cy="1299.9" r="12"/><circle cx="1873.1" cy="1296.6" r="12"/><circle cx="1870.1" cy="1236.2" r="12"/><circle cx="1854.8" cy="1280.3" r="12"/><circle cx="1875.3" cy="1252.5" r="12"/><circle cx="1840.1" cy="1314.1" r="12"/><circle cx="1859.3" cy="1287" r="12"/><circle cx="1833" cy="1262.4" r="12"/><circle cx="1868.6" cy="1252.6" r="12"/><circle cx="1855.2" cy="1310.8" r="12"/><circle cx="1833.5" cy="1279.7" r="12"/><circle cx="1876.9" cy="1276" r="12"/><circle cx="1843.3" cy="1268.2" r="12"/><circle cx="1848" cy="1279.7" r="12"/><circle cx="1828.4" cy="1245.9" r="12"/><circle cx="1818.7" cy="1267.9" r="12"/><circle cx="1834.8" cy="1310.5" r="12"/><circle cx="1828.3" cy="1263.2" r="12"/><circle cx="1867.5" cy="1248.6" r="12"/><circle cx="1862.9" cy="1301.9" r="12"/><circle cx="1837.5" cy="1229.1" r="12"/><circle cx="1859.1" cy="1292.5" r="12"/><circle cx="1866.6" cy="1286" r="12"/><circle cx="1832.5" cy="1315.9" r="12"/><circle cx="1872.9" cy="1292" r="12"/><circle cx="1858.3" cy="1240.5" r="12"/><circle cx="1818.3" cy="1241.6" r="12"/><circle cx="1853.3" cy="1310.2" r="12"/><circle cx="1875.4" cy="1260.5" r="12"/><circle cx="1840.7" cy="1314.8" r="12"/><circle cx="1817.3" cy="1241.8" r="12"/><circle cx="1818.4" cy="1242.8" r="12"/><circle cx="1841.3" cy="1280" r="12"/><circle cx="1840.5" cy="1289.2" r="12"/><circle cx="1867.3" cy="1287.2" r="12"/><circle cx="1877.8" cy="1307.8" r="12"/><circle cx="1818.2" cy="1236.2" r="12"/><circle cx="1835" cy="1276.1" r="12"/><circle cx="1863.2" cy="1296.9" r="12"/><circle cx="1866.7" cy="1295.8" r="12"/><circle cx="1860.5" cy="1311.1" r="12"/><circle cx="1833.8" cy="1268.2" r="12"/><circle cx="1832" cy="1279.7" r="12"/><circle cx="1824.7" cy="1241.1" r="12"/><circle cx="1834.1" cy="1239.9" r="12"/><circle cx="1865.8" cy="1286.3" r="12"/><circle cx="1823.8" cy="1218.8" r="12"/><circle cx="1812.5" cy="1227.5" r="12"/><circle cx="1831.3" cy="1222.5" r="12"/><circle cx="1867.5" cy="1226.5" r="12"/><circle cx="1865" cy="1227.5" r="12"/><circle cx="1852.5" cy="1232.5" r="12"/><circle cx="1835" cy="1238.8" r="12"/><circle cx="1816.3" cy="1238.8" r="12"/><circle cx="1826.3" cy="1246.3" r="12"/><circle cx="1862.5" cy="1257.5" r="12"/><circle cx="1871.3" cy="1255" r="12"/><circle cx="1818.8" cy="1267.5" r="12"/><circle cx="1858.8" cy="1267.5" r="12"/><circle cx="1850" cy="1275" r="12"/><circle cx="1835" cy="1272.5" r="12"/><circle cx="1875" cy="1282.5" r="12"/><circle cx="1825" cy="1287.5" r="12"/><circle cx="1855" cy="1288.8" r="12"/><circle cx="1878.8" cy="1285" r="12"/><circle cx="1816.3" cy="1297.5" r="12"/><circle cx="1825" cy="1303.8" r="12"/><circle cx="1846.3" cy="1310" r="12"/><circle cx="1868.8" cy="1306.3" r="12"/><circle cx="1877.5" cy="1312.5" r="12"/><circle cx="1820" cy="1312.5" r="12"/><circle cx="1832.5" cy="1317.5" r="12"/><circle cx="1872.5" cy="1317.5" r="12"/>
</g>
<circle cx="382" cy="248" r="134" fill="#dadbdb" fill-opacity=".8"/>
<g stroke="#000" stroke-width="2" stroke-linejoin="round">
<path d="M382 248L382 114A134 134 0 0 1 402.1 115.5Z" fill="#e98ba7"/>
<path d="M382 248L402.1 115.5A134 134 0 0 1 510.2 209Z" fill="#90d67d"/>
<circle cx="382" cy="248" r="134" fill="none"/>
</g>
<rect x="228.5" y="80" width="303" height="306" fill="none" stroke="#7f7f7f" stroke-width="1.6"/>
<text x="389.5" y="102.5" font-size="21.5" font-weight="bold" text-anchor="middle" word-spacing="4">Total SOC</text>
<path d="M303 141L342 141L391 115.5L360 141L369.5 141L369.5 198L303 198Z" transform="translate(1.3 1.3)" fill="#9a9a9a" fill-opacity=".45" stroke="none"/>
<path d="M303 141L342 141L391 115.5L360 141L369.5 141L369.5 198L303 198Z" fill="#fff" stroke="#c6c6c6" stroke-width="1.4"/>
<text x="336.2" y="164.6" font-size="22.1" text-anchor="middle">MNC</text>
<text x="336.2" y="190" font-size="22.1" text-anchor="middle">2.4%</text>
<path d="M423 178L462 178L469 147.5L477 178L489.5 178L489.5 235L423 235Z" transform="translate(1.3 1.3)" fill="#9a9a9a" fill-opacity=".45" stroke="none"/>
<path d="M423 178L462 178L469 147.5L477 178L489.5 178L489.5 235L423 235Z" fill="#fff" stroke="#c6c6c6" stroke-width="1.4"/>
<text x="456.2" y="201.6" font-size="22.1" text-anchor="middle">PDC</text>
<text x="456.2" y="227" font-size="22.1" text-anchor="middle">17.9%</text>
<path d="M307 260L377 260L377 318L335 318L303 354L317 318L307 318Z" transform="translate(1.3 1.3)" fill="#9a9a9a" fill-opacity=".45" stroke="none"/>
<path d="M307 260L377 260L377 318L335 318L303 354L317 318L307 318Z" fill="#fff" stroke="#c6c6c6" stroke-width="1.4"/>
<text x="342" y="284.1" font-size="22.1" text-anchor="middle">Others</text>
<text x="342" y="309.5" font-size="22.1" text-anchor="middle">79.7%</text>
<circle cx="1205.5" cy="203" r="95.5" fill="#dadbdb" fill-opacity=".8"/>
<g stroke="#000" stroke-width="2" stroke-linejoin="round">
<path d="M1205.5 203L1205.5 107.5A95.5 95.5 0 0 1 1260.7 125Z" fill="#e98ba7"/>
<path d="M1205.5 203L1260.7 125A95.5 95.5 0 0 1 1298.8 223.2Z" fill="#90d67d"/>
<circle cx="1205.5" cy="203" r="95.5" fill="none"/>
</g>
<rect x="1096.2" y="79" width="219.5" height="222.6" fill="none" stroke="#7f7f7f" stroke-width="1.6"/>
<text x="1202" y="100.4" font-size="20.8" font-weight="bold" text-anchor="middle">Total SOC</text>
<path d="M1162.4 121.5L1217.7 121.5L1217.7 123L1234.7 113.4L1217.7 138L1217.7 172.8L1162.4 172.8Z" transform="translate(1.3 1.3)" fill="#9a9a9a" fill-opacity=".45" stroke="none"/>
<path d="M1162.4 121.5L1217.7 121.5L1217.7 123L1234.7 113.4L1217.7 138L1217.7 172.8L1162.4 172.8Z" fill="#fff" stroke="#c6c6c6" stroke-width="1.4"/>
<text x="1190.1" y="143.6" font-size="21.1" text-anchor="middle">MNC</text>
<text x="1190.1" y="166.8" font-size="21.1" text-anchor="middle">9.8%</text>
<path d="M1231 182L1265 182L1293.9 169.5L1284 182L1292 182L1292 232.7L1231 232.7Z" transform="translate(1.3 1.3)" fill="#9a9a9a" fill-opacity=".45" stroke="none"/>
<path d="M1231 182L1265 182L1293.9 169.5L1284 182L1292 182L1292 232.7L1231 232.7Z" fill="#fff" stroke="#c6c6c6" stroke-width="1.4"/>
<text x="1261.5" y="203.8" font-size="21.1" text-anchor="middle">PDC</text>
<text x="1261.5" y="226.9" font-size="21.1" text-anchor="middle">18.6%</text>
<path d="M1156 222L1220.4 222L1220.4 272.7L1156 272.7L1156 263L1132.7 261.9L1156 248Z" transform="translate(1.3 1.3)" fill="#9a9a9a" fill-opacity=".45" stroke="none"/>
<path d="M1156 222L1220.4 222L1220.4 272.7L1156 272.7L1156 263L1132.7 261.9L1156 248Z" fill="#fff" stroke="#c6c6c6" stroke-width="1.4"/>
<text x="1188.2" y="243.8" font-size="21.1" text-anchor="middle">Others</text>
<text x="1188.2" y="266.9" font-size="21.1" text-anchor="middle">71.5%</text>
<circle cx="1488" cy="202.5" r="94.5" fill="#dadbdb" fill-opacity=".8"/>
<g stroke="#000" stroke-width="2" stroke-linejoin="round">
<path d="M1488 202.5L1488 108A94.5 94.5 0 0 1 1497.5 108.5Z" fill="#e98ba7"/>
<path d="M1488 202.5L1497.5 108.5A94.5 94.5 0 0 1 1578.9 176.7Z" fill="#90d67d"/>
<circle cx="1488" cy="202.5" r="94.5" fill="none"/>
</g>
<rect x="1377.6" y="78.4" width="221.4" height="222.4" fill="none" stroke="#7f7f7f" stroke-width="1.6"/>
<text x="1491.2" y="99.2" font-size="20.8" font-weight="bold" text-anchor="middle">Total SOC</text>
<path d="M1432 129.6L1470 129.6L1492.8 108.8L1486 129.6L1487 129.6L1487 181.8L1432 181.8Z" transform="translate(1.3 1.3)" fill="#9a9a9a" fill-opacity=".45" stroke="none"/>
<path d="M1432 129.6L1470 129.6L1492.8 108.8L1486 129.6L1487 129.6L1487 181.8L1432 181.8Z" fill="#fff" stroke="#c6c6c6" stroke-width="1.4"/>
<text x="1459.5" y="152.1" font-size="21.1" text-anchor="middle">MNC</text>
<text x="1459.5" y="175.3" font-size="21.1" text-anchor="middle">1.6%</text>
<path d="M1500.8 146.6L1540.8 146.6L1548.8 130.6L1555 146.6L1563.8 146.6L1563.8 197.8L1500.8 197.8Z" transform="translate(1.3 1.3)" fill="#9a9a9a" fill-opacity=".45" stroke="none"/>
<path d="M1500.8 146.6L1540.8 146.6L1548.8 130.6L1555 146.6L1563.8 146.6L1563.8 197.8L1500.8 197.8Z" fill="#fff" stroke="#c6c6c6" stroke-width="1.4"/>
<text x="1532.3" y="168.6" font-size="21.1" text-anchor="middle">PDC</text>
<text x="1532.3" y="191.8" font-size="21.1" text-anchor="middle">19.0%</text>
<path d="M1454.4 220.8L1518.4 220.8L1518.4 273.6L1454.4 273.6L1454.4 272L1433 276.8L1454.4 252.8Z" transform="translate(1.3 1.3)" fill="#9a9a9a" fill-opacity=".45" stroke="none"/>
<path d="M1454.4 220.8L1518.4 220.8L1518.4 273.6L1454.4 273.6L1454.4 272L1433 276.8L1454.4 252.8Z" fill="#fff" stroke="#c6c6c6" stroke-width="1.4"/>
<text x="1486.4" y="243.6" font-size="21.1" text-anchor="middle">Others</text>
<text x="1486.4" y="266.8" font-size="21.1" text-anchor="middle">79.4%</text>
<circle cx="1778.6" cy="204.2" r="94.7" fill="#dadbdb" fill-opacity=".8"/>
<g stroke="#000" stroke-width="2" stroke-linejoin="round">
<path d="M1778.6 204.2L1778.6 109.5A94.7 94.7 0 0 1 1782.8 109.6Z" fill="#e98ba7"/>
<path d="M1778.6 204.2L1782.8 109.6A94.7 94.7 0 0 1 1861.3 158.1Z" fill="#90d67d"/>
<circle cx="1778.6" cy="204.2" r="94.7" fill="none"/>
</g>
<rect x="1669.4" y="80.6" width="220.6" height="221.8" fill="none" stroke="#7f7f7f" stroke-width="1.6"/>
<text x="1777" y="100.8" font-size="20.8" font-weight="bold" text-anchor="middle">Total SOC</text>
<path d="M1716.8 136L1756.8 136L1779.8 110.4L1771 136L1771.2 136L1771.2 187.2L1716.8 187.2Z" transform="translate(1.3 1.3)" fill="#9a9a9a" fill-opacity=".45" stroke="none"/>
<path d="M1716.8 136L1756.8 136L1779.8 110.4L1771 136L1771.2 136L1771.2 187.2L1716.8 187.2Z" fill="#fff" stroke="#c6c6c6" stroke-width="1.4"/>
<text x="1744" y="158" font-size="21.1" text-anchor="middle">MNC</text>
<text x="1744" y="181.2" font-size="21.1" text-anchor="middle">0.7%</text>
<path d="M1787.8 150.4L1820.8 150.4L1828.8 124.8L1838.4 150.4L1849.6 150.4L1849.6 201.6L1787.8 201.6Z" transform="translate(1.3 1.3)" fill="#9a9a9a" fill-opacity=".45" stroke="none"/>
<path d="M1787.8 150.4L1820.8 150.4L1828.8 124.8L1838.4 150.4L1849.6 150.4L1849.6 201.6L1787.8 201.6Z" fill="#fff" stroke="#c6c6c6" stroke-width="1.4"/>
<text x="1818.7" y="172.4" font-size="21.1" text-anchor="middle">PDC</text>
<text x="1818.7" y="195.6" font-size="21.1" text-anchor="middle">16.2%</text>
<path d="M1754.2 227.2L1819.2 227.2L1819.2 277.8L1754.2 277.8L1754.2 277.4L1732.2 284.2L1754.2 256Z" transform="translate(1.3 1.3)" fill="#9a9a9a" fill-opacity=".45" stroke="none"/>
<path d="M1754.2 227.2L1819.2 227.2L1819.2 277.8L1754.2 277.8L1754.2 277.4L1732.2 284.2L1754.2 256Z" fill="#fff" stroke="#c6c6c6" stroke-width="1.4"/>
<text x="1786.7" y="248.9" font-size="21.1" text-anchor="middle">Others</text>
<text x="1786.7" y="272.1" font-size="21.1" text-anchor="middle">83.1%</text>
<circle cx="364.5" cy="967.1" r="95.2" fill="#dadbdb" fill-opacity=".8"/>
<g stroke="#000" stroke-width="2" stroke-linejoin="round">
<path d="M364.5 967.1L364.5 871.9A95.2 95.2 0 0 1 374.6 872.4Z" fill="#e98ba7"/>
<path d="M364.5 967.1L374.6 872.4A95.2 95.2 0 0 1 455 937.7Z" fill="#90d67d"/>
<circle cx="364.5" cy="967.1" r="95.2" fill="none"/>
</g>
<rect x="255.3" y="844.7" width="220.2" height="222" fill="none" stroke="#7f7f7f" stroke-width="1.6"/>
<text x="371.1" y="864.5" font-size="20.8" font-weight="bold" text-anchor="middle">Total SOC</text>
<path d="M301.5 896.9L336 896.9L369.6 874.1L354 896.9L357 896.9L357 948.5L301.5 948.5Z" transform="translate(1.3 1.3)" fill="#9a9a9a" fill-opacity=".45" stroke="none"/>
<path d="M301.5 896.9L336 896.9L369.6 874.1L354 896.9L357 896.9L357 948.5L301.5 948.5Z" fill="#fff" stroke="#c6c6c6" stroke-width="1.4"/>
<text x="329.2" y="919.1" font-size="21.1" text-anchor="middle">MNC</text>
<text x="329.2" y="942.3" font-size="21.1" text-anchor="middle">1.7%</text>
<path d="M376.5 916.1L414 916.1L424 896L432 916.1L437.1 916.1L437.1 967.1L376.5 967.1Z" transform="translate(1.3 1.3)" fill="#9a9a9a" fill-opacity=".45" stroke="none"/>
<path d="M376.5 916.1L414 916.1L424 896L432 916.1L437.1 916.1L437.1 967.1L376.5 967.1Z" fill="#fff" stroke="#c6c6c6" stroke-width="1.4"/>
<text x="406.8" y="938" font-size="21.1" text-anchor="middle">PDC</text>
<text x="406.8" y="961.2" font-size="21.1" text-anchor="middle">18.3%</text>
<path d="M335.1 992.9L399 992.9L399 1043.9L335.1 1043.9L335.1 1036.5L311.5 1042L335.1 1020.5Z" transform="translate(1.3 1.3)" fill="#9a9a9a" fill-opacity=".45" stroke="none"/>
<path d="M335.1 992.9L399 992.9L399 1043.9L335.1 1043.9L335.1 1036.5L311.5 1042L335.1 1020.5Z" fill="#fff" stroke="#c6c6c6" stroke-width="1.4"/>
<text x="367.1" y="1014.8" font-size="21.1" text-anchor="middle">Others</text>
<text x="367.1" y="1038" font-size="21.1" text-anchor="middle">80.0%</text>
<circle cx="708.5" cy="968.6" r="93.4" fill="#dadbdb" fill-opacity=".8"/>
<g stroke="#000" stroke-width="2" stroke-linejoin="round">
<path d="M708.5 968.6L708.5 875.2A93.4 93.4 0 0 1 722.5 876.3Z" fill="#e98ba7"/>
<path d="M708.5 968.6L722.5 876.3A93.4 93.4 0 0 1 801.7 962.7Z" fill="#90d67d"/>
<circle cx="708.5" cy="968.6" r="93.4" fill="none"/>
</g>
<rect x="598.8" y="844.5" width="220" height="222.5" fill="none" stroke="#7f7f7f" stroke-width="1.6"/>
<text x="714.3" y="865" font-size="20.8" font-weight="bold" text-anchor="middle">Total SOC</text>
<path d="M644.3 913.8L675 913.8L715 876.3L692.5 913.8L698.8 913.8L698.8 966.3L644.3 966.3Z" transform="translate(1.3 1.3)" fill="#9a9a9a" fill-opacity=".45" stroke="none"/>
<path d="M644.3 913.8L675 913.8L715 876.3L692.5 913.8L698.8 913.8L698.8 966.3L644.3 966.3Z" fill="#fff" stroke="#c6c6c6" stroke-width="1.4"/>
<text x="671.5" y="936.4" font-size="21.1" text-anchor="middle">MNC</text>
<text x="671.5" y="959.6" font-size="21.1" text-anchor="middle">2.4%</text>
<path d="M726.3 928.8L762.5 928.8L777 906.3L777.5 928.8L787.5 928.8L787.5 980L726.3 980Z" transform="translate(1.3 1.3)" fill="#9a9a9a" fill-opacity=".45" stroke="none"/>
<path d="M726.3 928.8L762.5 928.8L777 906.3L777.5 928.8L787.5 928.8L787.5 980L726.3 980Z" fill="#fff" stroke="#c6c6c6" stroke-width="1.4"/>
<text x="756.9" y="950.8" font-size="21.1" text-anchor="middle">PDC</text>
<text x="756.9" y="974" font-size="21.1" text-anchor="middle">21.6%</text>
<path d="M670.8 987.5L735 987.5L735 1038.8L670.8 1038.8L670.8 1031L645.8 1035.8L670.8 1016Z" transform="translate(1.3 1.3)" fill="#9a9a9a" fill-opacity=".45" stroke="none"/>
<path d="M670.8 987.5L735 987.5L735 1038.8L670.8 1038.8L670.8 1031L645.8 1035.8L670.8 1016Z" fill="#fff" stroke="#c6c6c6" stroke-width="1.4"/>
<text x="702.9" y="1009.5" font-size="21.1" text-anchor="middle">Others</text>
<text x="702.9" y="1032.8" font-size="21.1" text-anchor="middle">76.0%</text>
<circle cx="1053.3" cy="966.3" r="94" fill="#dadbdb" fill-opacity=".8"/>
<g stroke="#000" stroke-width="2" stroke-linejoin="round">
<path d="M1053.3 966.3L1053.3 872.3A94 94 0 0 1 1066.3 873.2Z" fill="#e98ba7"/>
<path d="M1053.3 966.3L1066.3 873.2A94 94 0 0 1 1123 903.3Z" fill="#90d67d"/>
<circle cx="1053.3" cy="966.3" r="94" fill="none"/>
</g>
<rect x="943" y="843" width="219.5" height="222" fill="none" stroke="#7f7f7f" stroke-width="1.6"/>
<text x="1058.8" y="862.5" font-size="20.8" font-weight="bold" text-anchor="middle">Total SOC</text>
<path d="M989.5 899.5L1022.5 899.5L1058.8 873.3L1043.8 899.5L1044.3 899.5L1044.3 951.3L989.5 951.3Z" transform="translate(1.3 1.3)" fill="#9a9a9a" fill-opacity=".45" stroke="none"/>
<path d="M989.5 899.5L1022.5 899.5L1058.8 873.3L1043.8 899.5L1044.3 899.5L1044.3 951.3L989.5 951.3Z" fill="#fff" stroke="#c6c6c6" stroke-width="1.4"/>
<text x="1016.9" y="921.8" font-size="21.1" text-anchor="middle">MNC</text>
<text x="1016.9" y="945" font-size="21.1" text-anchor="middle">2.2%</text>
<path d="M1064.3 908.8L1100 908.8L1098.3 884.5L1117.5 908.8L1125 908.8L1125 961.3L1064.3 961.3Z" transform="translate(1.3 1.3)" fill="#9a9a9a" fill-opacity=".45" stroke="none"/>
<path d="M1064.3 908.8L1100 908.8L1098.3 884.5L1117.5 908.8L1125 908.8L1125 961.3L1064.3 961.3Z" fill="#fff" stroke="#c6c6c6" stroke-width="1.4"/>
<text x="1094.7" y="931.4" font-size="21.1" text-anchor="middle">PDC</text>
<text x="1094.7" y="954.6" font-size="21.1" text-anchor="middle">11.1%</text>
<path d="M1017.5 976.3L1082.5 976.3L1082.5 1029.3L1043.8 1029.3L1015.8 1050.8L1027.5 1029.3L1017.5 1029.3Z" transform="translate(1.3 1.3)" fill="#9a9a9a" fill-opacity=".45" stroke="none"/>
<path d="M1017.5 976.3L1082.5 976.3L1082.5 1029.3L1043.8 1029.3L1015.8 1050.8L1027.5 1029.3L1017.5 1029.3Z" fill="#fff" stroke="#c6c6c6" stroke-width="1.4"/>
<text x="1050" y="999.2" font-size="21.1" text-anchor="middle">Others</text>
<text x="1050" y="1022.4" font-size="21.1" text-anchor="middle">86.7%</text>
<circle cx="1390.8" cy="967" r="92.6" fill="#dadbdb" fill-opacity=".8"/>
<g stroke="#000" stroke-width="2" stroke-linejoin="round">
<path d="M1390.8 967L1390.8 874.4A92.6 92.6 0 0 1 1404.1 875.4Z" fill="#e98ba7"/>
<path d="M1390.8 967L1404.1 875.4A92.6 92.6 0 0 1 1476.5 931.8Z" fill="#90d67d"/>
<circle cx="1390.8" cy="967" r="92.6" fill="none"/>
</g>
<rect x="1280.8" y="843" width="220.5" height="222" fill="none" stroke="#7f7f7f" stroke-width="1.6"/>
<text x="1391.8" y="861.8" font-size="20.8" font-weight="bold" text-anchor="middle">Total SOC</text>
<path d="M1330 896.3L1362.5 896.3L1397.5 875L1383.8 896.3L1385 896.3L1385 947.5L1330 947.5Z" transform="translate(1.3 1.3)" fill="#9a9a9a" fill-opacity=".45" stroke="none"/>
<path d="M1330 896.3L1362.5 896.3L1397.5 875L1383.8 896.3L1385 896.3L1385 947.5L1330 947.5Z" fill="#fff" stroke="#c6c6c6" stroke-width="1.4"/>
<text x="1357.5" y="918.3" font-size="21.1" text-anchor="middle">MNC</text>
<text x="1357.5" y="941.5" font-size="21.1" text-anchor="middle">2.3%</text>
<path d="M1400 912.5L1437.5 912.5L1447 896.3L1455 912.5L1462 912.5L1462 963.8L1400 963.8Z" transform="translate(1.3 1.3)" fill="#9a9a9a" fill-opacity=".45" stroke="none"/>
<path d="M1400 912.5L1437.5 912.5L1447 896.3L1455 912.5L1462 912.5L1462 963.8L1400 963.8Z" fill="#fff" stroke="#c6c6c6" stroke-width="1.4"/>
<text x="1431" y="934.5" font-size="21.1" text-anchor="middle">PDC</text>
<text x="1431" y="957.8" font-size="21.1" text-anchor="middle">16.5%</text>
<path d="M1358.8 983L1423.8 983L1423.8 1035L1358.8 1035L1358.8 1027.5L1340 1043.3L1358.8 1012.5Z" transform="translate(1.3 1.3)" fill="#9a9a9a" fill-opacity=".45" stroke="none"/>
<path d="M1358.8 983L1423.8 983L1423.8 1035L1358.8 1035L1358.8 1027.5L1340 1043.3L1358.8 1012.5Z" fill="#fff" stroke="#c6c6c6" stroke-width="1.4"/>
<text x="1391.3" y="1005.4" font-size="21.1" text-anchor="middle">Others</text>
<text x="1391.3" y="1028.6" font-size="21.1" text-anchor="middle">81.2%</text>
<circle cx="1728.8" cy="966.8" r="93.6" fill="#dadbdb" fill-opacity=".8"/>
<g stroke="#000" stroke-width="2" stroke-linejoin="round">
<path d="M1728.8 966.8L1728.8 873.2A93.6 93.6 0 0 1 1808.8 918.1Z" fill="#e98ba7"/>
<path d="M1728.8 966.8L1808.8 918.1A93.6 93.6 0 0 1 1786.6 1040.4Z" fill="#90d67d"/>
<circle cx="1728.8" cy="966.8" r="93.6" fill="none"/>
</g>
<rect x="1620.5" y="841.5" width="220.3" height="223" fill="none" stroke="#7f7f7f" stroke-width="1.6"/>
<text x="1732.5" y="862.5" font-size="20.8" font-weight="bold" text-anchor="middle">Total SOC</text>
<path d="M1687.5 886.8L1748.8 886.8L1748.8 888.8L1774.3 885.8L1748.8 905L1748.8 938L1687.5 938Z" transform="translate(1.3 1.3)" fill="#9a9a9a" fill-opacity=".45" stroke="none"/>
<path d="M1687.5 886.8L1748.8 886.8L1748.8 888.8L1774.3 885.8L1748.8 905L1748.8 938L1687.5 938Z" fill="#fff" stroke="#c6c6c6" stroke-width="1.4"/>
<text x="1718.2" y="908.8" font-size="21.1" text-anchor="middle">MNC</text>
<text x="1718.2" y="932" font-size="21.1" text-anchor="middle">16.3%</text>
<path d="M1740.5 962.5L1802 962.5L1802 966L1820 982.5L1802 982.5L1802 1013.8L1740.5 1013.8Z" transform="translate(1.3 1.3)" fill="#9a9a9a" fill-opacity=".45" stroke="none"/>
<path d="M1740.5 962.5L1802 962.5L1802 966L1820 982.5L1802 982.5L1802 1013.8L1740.5 1013.8Z" fill="#fff" stroke="#c6c6c6" stroke-width="1.4"/>
<text x="1771.2" y="984.5" font-size="21.1" text-anchor="middle">PDC</text>
<text x="1771.2" y="1007.8" font-size="21.1" text-anchor="middle">23.1%</text>
<path d="M1668.8 980L1732.5 980L1732.5 1031.3L1668.8 1031.3L1668.8 1001L1640.8 996.8L1668.8 987.5Z" transform="translate(1.3 1.3)" fill="#9a9a9a" fill-opacity=".45" stroke="none"/>
<path d="M1668.8 980L1732.5 980L1732.5 1031.3L1668.8 1031.3L1668.8 1001L1640.8 996.8L1668.8 987.5Z" fill="#fff" stroke="#c6c6c6" stroke-width="1.4"/>
<text x="1700.7" y="1002" font-size="21.1" text-anchor="middle">Others</text>
<text x="1700.7" y="1025.2" font-size="21.1" text-anchor="middle">60.6%</text>
<g fill="#e56e8e" fill-opacity=".8" stroke="#000" stroke-width="2.7">
<circle cx="367.5" cy="383.8" r="12"/>
</g>
<path d="M382.3 50V38.3H678.8V50" stroke="#ee9b2a" stroke-width="4.4" fill="none" stroke-linejoin="miter"/>
<text x="532" y="24.5" font-size="31.7" text-anchor="middle" fill="#ee9b2a"><tspan font-style="italic">P</tspan> &lt; 0.001</text>
<path d="M1195 50.2V38.5H1317V50.2" stroke="#ee9b2a" stroke-width="4.4" fill="none" stroke-linejoin="miter"/>
<text x="1257.5" y="25" font-size="31.7" text-anchor="middle" fill="#ee9b2a"><tspan font-style="italic">P</tspan> &lt; 0.001</text>
<path d="M1477.4 50.2V38.5H1599V50.2" stroke="#ee9b2a" stroke-width="4.4" fill="none" stroke-linejoin="miter"/>
<text x="1534.9" y="25" font-size="31.7" text-anchor="middle" fill="#ee9b2a"><tspan font-style="italic">P</tspan> &lt; 0.001</text>
<path d="M1770.6 50.2V38.5H1892.2V50.2" stroke="#ee9b2a" stroke-width="4.4" fill="none" stroke-linejoin="miter"/>
<text x="1827.2" y="25" font-size="31.7" text-anchor="middle" fill="#ee9b2a"><tspan font-style="italic">P</tspan> &lt; 0.001</text>
<path d="M354.6 808.9V797.2H476.1V808.9" stroke="#ee9b2a" stroke-width="4.4" fill="none" stroke-linejoin="miter"/>
<text x="414.5" y="785" font-size="31.7" text-anchor="middle" fill="#ee9b2a"><tspan font-style="italic">P</tspan> &lt; 0.001</text>
<path d="M696.3 808.9V797.2H820.5V808.9" stroke="#ee9b2a" stroke-width="4.4" fill="none" stroke-linejoin="miter"/>
<text x="754.8" y="785" font-size="31.7" text-anchor="middle" fill="#ee9b2a"><tspan font-style="italic">P</tspan> &lt; 0.001</text>
<path d="M1042 808.9V797.2H1164.3V808.9" stroke="#ee9b2a" stroke-width="4.4" fill="none" stroke-linejoin="miter"/>
<text x="1096.9" y="785" font-size="31.7" text-anchor="middle" fill="#ee9b2a"><tspan font-style="italic">P</tspan> &lt; 0.001</text>
<path d="M1381.8 808.9V797.2H1503.8V808.9" stroke="#ee9b2a" stroke-width="4.4" fill="none" stroke-linejoin="miter"/>
<text x="1443.2" y="785" font-size="31.7" text-anchor="middle" fill="#ee9b2a"><tspan font-style="italic">P</tspan> &lt; 0.001</text>
<path d="M1718.3 808.9V797.2H1839.3V808.9" stroke="#ee9b2a" stroke-width="4.4" fill="none" stroke-linejoin="miter"/>
<text x="1775" y="785" font-size="31.7" text-anchor="middle" fill="#ee9b2a"><tspan font-style="italic">P</tspan> = 0.024</text>
<path d="M957.5 1462.7V1516.6" stroke="#333" stroke-width="5.4"/>
<rect x="928.8" y="1469.3" width="57.4" height="40" fill="#333"/>
<rect x="934.6" y="1475.2" width="45.8" height="11" fill="#edb6c8"/>
<rect x="934.6" y="1492.8" width="45.8" height="10.7" fill="#edb6c8"/>
<circle cx="957.5" cy="1489.5" r="12.6" fill="#e56e8e" fill-opacity=".8"/>
<path d="M1148.3 1462.7V1516.6" stroke="#333" stroke-width="5.4"/>
<rect x="1119.6" y="1469.3" width="57.4" height="40" fill="#333"/>
<rect x="1125.4" y="1475.2" width="45.8" height="11" fill="#b7e5ab"/>
<rect x="1125.4" y="1492.8" width="45.8" height="10.7" fill="#b7e5ab"/>
<circle cx="1148.3" cy="1489.5" r="12.6" fill="#76c65c" fill-opacity=".8"/>
<text x="1002" y="1501.8" font-size="44.2">MNC</text>
<text x="1196.4" y="1501.8" font-size="44.2">PDC</text>
</svg>
</body></html>
